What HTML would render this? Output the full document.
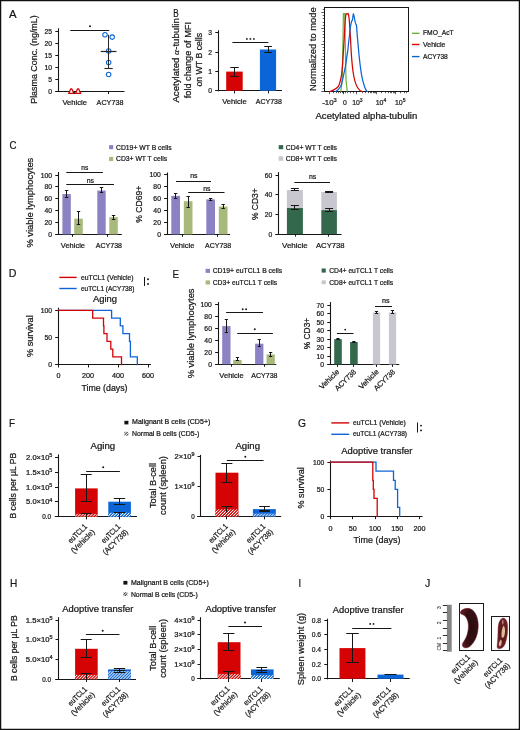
<!DOCTYPE html>
<html><head><meta charset="utf-8"><style>
html,body{margin:0;padding:0;background:#fff;}
svg{display:block;will-change:transform;}
text{font-family:"Liberation Sans", sans-serif;}
</style></head><body>
<svg width="520" height="730" viewBox="0 0 520 730">
<defs>
<radialGradient id="sp1" cx="0.62" cy="0.5" r="0.6"><stop offset="0" stop-color="#2a0b0f"/><stop offset="0.75" stop-color="#361014"/><stop offset="1" stop-color="#5a1820"/></radialGradient>
<radialGradient id="sp2" cx="0.5" cy="0.5" r="0.6"><stop offset="0" stop-color="#4a1418"/><stop offset="1" stop-color="#7a2028"/></radialGradient>
<clipPath id="hclip"><rect x="325" y="7.9" width="83.4" height="84.5"/></clipPath>
<pattern id="hr" patternUnits="userSpaceOnUse" width="2.1" height="2.1" patternTransform="rotate(45)"><rect width="2.1" height="2.1" fill="#d50303"/><rect width="0.85" height="2.1" fill="#fff"/></pattern>
<pattern id="hb" patternUnits="userSpaceOnUse" width="2.1" height="2.1" patternTransform="rotate(45)"><rect width="2.1" height="2.1" fill="#0c65d6"/><rect width="0.85" height="2.1" fill="#fff"/></pattern>
<pattern id="hk" patternUnits="userSpaceOnUse" width="1.9" height="1.9" patternTransform="rotate(45)"><rect width="1.9" height="1.9" fill="#fff"/><rect width="0.9" height="1.9" fill="#222"/></pattern>
</defs>
<rect x="0" y="0" width="520" height="730" fill="#fff"/>
<text transform="translate(9.00,17.60)" font-size="11.6" textLength="7.60" lengthAdjust="spacingAndGlyphs" fill="#161616" stroke="#161616" stroke-width="0.22">A</text>
<line x1="58.50" y1="28.30" x2="58.50" y2="92.00" stroke="#161616" stroke-width="1.1"/>
<line x1="55.30" y1="91.50" x2="124.50" y2="91.50" stroke="#161616" stroke-width="1.1"/>
<line x1="55.30" y1="91.50" x2="58.50" y2="91.50" stroke="#161616" stroke-width="1.0"/>
<text transform="translate(52.10,94.00) scale(0.97,1)" font-size="7.0" text-anchor="end" fill="#161616" stroke="#161616" stroke-width="0.22">0</text>
<line x1="55.30" y1="79.50" x2="58.50" y2="79.50" stroke="#161616" stroke-width="1.0"/>
<text transform="translate(52.10,82.00) scale(0.97,1)" font-size="7.0" text-anchor="end" fill="#161616" stroke="#161616" stroke-width="0.22">5</text>
<line x1="55.30" y1="67.50" x2="58.50" y2="67.50" stroke="#161616" stroke-width="1.0"/>
<text transform="translate(52.10,70.00) scale(0.97,1)" font-size="7.0" text-anchor="end" fill="#161616" stroke="#161616" stroke-width="0.22">10</text>
<line x1="55.30" y1="55.50" x2="58.50" y2="55.50" stroke="#161616" stroke-width="1.0"/>
<text transform="translate(52.10,58.00) scale(0.97,1)" font-size="7.0" text-anchor="end" fill="#161616" stroke="#161616" stroke-width="0.22">15</text>
<line x1="55.30" y1="43.50" x2="58.50" y2="43.50" stroke="#161616" stroke-width="1.0"/>
<text transform="translate(52.10,46.00) scale(0.97,1)" font-size="7.0" text-anchor="end" fill="#161616" stroke="#161616" stroke-width="0.22">20</text>
<line x1="55.30" y1="31.50" x2="58.50" y2="31.50" stroke="#161616" stroke-width="1.0"/>
<text transform="translate(52.10,34.00) scale(0.97,1)" font-size="7.0" text-anchor="end" fill="#161616" stroke="#161616" stroke-width="0.22">25</text>
<line x1="108.50" y1="91.50" x2="108.50" y2="94.00" stroke="#161616" stroke-width="1.0"/>
<line x1="74.50" y1="91.50" x2="74.50" y2="94.00" stroke="#161616" stroke-width="1.0"/>
<text transform="translate(62.40,104.60)" font-size="7.5" textLength="24.60" lengthAdjust="spacingAndGlyphs" fill="#161616" stroke="#161616" stroke-width="0.22">Vehicle</text>
<text transform="translate(96.60,104.60)" font-size="7.5" textLength="26.80" lengthAdjust="spacingAndGlyphs" fill="#161616" stroke="#161616" stroke-width="0.22">ACY738</text>
<text transform="translate(36.80,103.80) rotate(-90)" font-size="8.6" textLength="88.50" lengthAdjust="spacingAndGlyphs" fill="#161616" stroke="#161616" stroke-width="0.22">Plasma Conc. (ng/mL)</text>
<line x1="70.30" y1="30.50" x2="109.20" y2="30.50" stroke="#161616" stroke-width="1.0"/>
<circle cx="90.00" cy="26.20" r="1.0" fill="#161616"/>
<circle cx="105" cy="34.8" r="2.25" fill="none" stroke="#0c65d6" stroke-width="1.05"/>
<circle cx="112.2" cy="37.1" r="2.25" fill="none" stroke="#0c65d6" stroke-width="1.05"/>
<circle cx="108.65" cy="50.9" r="2.25" fill="none" stroke="#0c65d6" stroke-width="1.05"/>
<circle cx="108.65" cy="62.5" r="2.25" fill="none" stroke="#0c65d6" stroke-width="1.05"/>
<circle cx="108.65" cy="74.5" r="2.25" fill="none" stroke="#0c65d6" stroke-width="1.05"/>
<line x1="108.50" y1="34.80" x2="108.50" y2="68.70" stroke="#262626" stroke-width="1.0"/>
<line x1="104.40" y1="68.50" x2="112.70" y2="68.50" stroke="#262626" stroke-width="1.1"/>
<line x1="100.70" y1="51.50" x2="116.50" y2="51.50" stroke="#262626" stroke-width="1.2"/>
<path d="M68.7,93.4 L70.7,89.0 L71.89999999999999,89.0 L73.89999999999999,93.4 Z" fill="#fff" stroke="#d50303" stroke-width="1.3" stroke-linejoin="round"/>
<path d="M75.5,93.4 L77.5,89.0 L78.69999999999999,89.0 L80.69999999999999,93.4 Z" fill="#fff" stroke="#d50303" stroke-width="1.3" stroke-linejoin="round"/>
<text transform="translate(173.20,16.60)" font-size="11.6" textLength="5.40" lengthAdjust="spacingAndGlyphs" fill="#161616" stroke="#161616" stroke-width="0.22">B</text>
<text transform="translate(179.40,102.60) rotate(-90)" font-size="8.6" textLength="84.40" lengthAdjust="spacingAndGlyphs" fill="#161616" stroke="#161616" stroke-width="0.22">Acetylated <tspan font-family="Liberation Serif" font-style="italic">α</tspan>-tubulin</text>
<text transform="translate(191.10,98.30) rotate(-90)" font-size="8.6" textLength="76.30" lengthAdjust="spacingAndGlyphs" fill="#161616" stroke="#161616" stroke-width="0.22">fold change of MFI</text>
<text transform="translate(201.70,86.60) rotate(-90)" font-size="8.6" textLength="53.70" lengthAdjust="spacingAndGlyphs" fill="#161616" stroke="#161616" stroke-width="0.22">on WT B cells</text>
<line x1="218.50" y1="30.30" x2="218.50" y2="91.30" stroke="#161616" stroke-width="1.1"/>
<line x1="215.30" y1="90.50" x2="282.00" y2="90.50" stroke="#161616" stroke-width="1.1"/>
<line x1="215.30" y1="90.50" x2="218.50" y2="90.50" stroke="#161616" stroke-width="1.0"/>
<text transform="translate(212.10,93.30) scale(0.97,1)" font-size="7.0" text-anchor="end" fill="#161616" stroke="#161616" stroke-width="0.22">0</text>
<line x1="215.30" y1="71.50" x2="218.50" y2="71.50" stroke="#161616" stroke-width="1.0"/>
<text transform="translate(212.10,73.90) scale(0.97,1)" font-size="7.0" text-anchor="end" fill="#161616" stroke="#161616" stroke-width="0.22">1</text>
<line x1="215.30" y1="52.50" x2="218.50" y2="52.50" stroke="#161616" stroke-width="1.0"/>
<text transform="translate(212.10,54.50) scale(0.97,1)" font-size="7.0" text-anchor="end" fill="#161616" stroke="#161616" stroke-width="0.22">2</text>
<line x1="215.30" y1="32.50" x2="218.50" y2="32.50" stroke="#161616" stroke-width="1.0"/>
<text transform="translate(212.10,35.10) scale(0.97,1)" font-size="7.0" text-anchor="end" fill="#161616" stroke="#161616" stroke-width="0.22">3</text>
<rect x="226.20" y="71.60" width="16.50" height="19.20" fill="#d50303" />
<rect x="259.90" y="49.50" width="16.20" height="41.30" fill="#0c65d6" />
<line x1="234.50" y1="67.20" x2="234.50" y2="76.00" stroke="#161616" stroke-width="1.0"/>
<line x1="230.30" y1="67.50" x2="238.70" y2="67.50" stroke="#161616" stroke-width="1.0"/>
<line x1="230.30" y1="76.50" x2="238.70" y2="76.50" stroke="#161616" stroke-width="1.0"/>
<line x1="268.50" y1="46.50" x2="268.50" y2="52.20" stroke="#161616" stroke-width="1.0"/>
<line x1="264.25" y1="46.50" x2="271.95" y2="46.50" stroke="#161616" stroke-width="1.0"/>
<line x1="264.25" y1="52.50" x2="271.95" y2="52.50" stroke="#161616" stroke-width="1.0"/>
<line x1="234.50" y1="90.80" x2="234.50" y2="93.40" stroke="#161616" stroke-width="1.0"/>
<line x1="268.50" y1="90.80" x2="268.50" y2="93.40" stroke="#161616" stroke-width="1.0"/>
<line x1="232.40" y1="42.50" x2="268.40" y2="42.50" stroke="#161616" stroke-width="1.0"/>
<circle cx="246.90" cy="38.90" r="0.9" fill="#161616"/>
<circle cx="250.40" cy="38.90" r="0.9" fill="#161616"/>
<circle cx="253.90" cy="38.90" r="0.9" fill="#161616"/>
<text transform="translate(222.20,104.30)" font-size="7.5" textLength="24.60" lengthAdjust="spacingAndGlyphs" fill="#161616" stroke="#161616" stroke-width="0.22">Vehicle</text>
<text transform="translate(255.80,104.30)" font-size="7.5" textLength="26.10" lengthAdjust="spacingAndGlyphs" fill="#161616" stroke="#161616" stroke-width="0.22">ACY738</text>
<rect x="324.5" y="7.5" width="84.0" height="84.0" fill="none" stroke="#161616" stroke-width="1.0"/>
<text transform="translate(316.20,91.00) rotate(-90)" font-size="8.6" textLength="83.60" lengthAdjust="spacingAndGlyphs" fill="#161616" stroke="#161616" stroke-width="0.22">Normalized to mode</text>
<line x1="321.30" y1="91.50" x2="324.50" y2="91.50" stroke="#161616" stroke-width="0.7"/>
<line x1="322.70" y1="88.50" x2="324.50" y2="88.50" stroke="#161616" stroke-width="0.7"/>
<line x1="322.70" y1="85.50" x2="324.50" y2="85.50" stroke="#161616" stroke-width="0.7"/>
<line x1="322.70" y1="82.50" x2="324.50" y2="82.50" stroke="#161616" stroke-width="0.7"/>
<line x1="322.70" y1="78.50" x2="324.50" y2="78.50" stroke="#161616" stroke-width="0.7"/>
<line x1="321.30" y1="75.50" x2="324.50" y2="75.50" stroke="#161616" stroke-width="0.7"/>
<line x1="322.70" y1="72.50" x2="324.50" y2="72.50" stroke="#161616" stroke-width="0.7"/>
<line x1="322.70" y1="69.50" x2="324.50" y2="69.50" stroke="#161616" stroke-width="0.7"/>
<line x1="322.70" y1="66.50" x2="324.50" y2="66.50" stroke="#161616" stroke-width="0.7"/>
<line x1="322.70" y1="63.50" x2="324.50" y2="63.50" stroke="#161616" stroke-width="0.7"/>
<line x1="321.30" y1="59.50" x2="324.50" y2="59.50" stroke="#161616" stroke-width="0.7"/>
<line x1="322.70" y1="56.50" x2="324.50" y2="56.50" stroke="#161616" stroke-width="0.7"/>
<line x1="322.70" y1="53.50" x2="324.50" y2="53.50" stroke="#161616" stroke-width="0.7"/>
<line x1="322.70" y1="50.50" x2="324.50" y2="50.50" stroke="#161616" stroke-width="0.7"/>
<line x1="322.70" y1="47.50" x2="324.50" y2="47.50" stroke="#161616" stroke-width="0.7"/>
<line x1="321.30" y1="44.50" x2="324.50" y2="44.50" stroke="#161616" stroke-width="0.7"/>
<line x1="322.70" y1="41.50" x2="324.50" y2="41.50" stroke="#161616" stroke-width="0.7"/>
<line x1="322.70" y1="37.50" x2="324.50" y2="37.50" stroke="#161616" stroke-width="0.7"/>
<line x1="322.70" y1="34.50" x2="324.50" y2="34.50" stroke="#161616" stroke-width="0.7"/>
<line x1="322.70" y1="31.50" x2="324.50" y2="31.50" stroke="#161616" stroke-width="0.7"/>
<line x1="321.30" y1="28.50" x2="324.50" y2="28.50" stroke="#161616" stroke-width="0.7"/>
<line x1="322.70" y1="25.50" x2="324.50" y2="25.50" stroke="#161616" stroke-width="0.7"/>
<line x1="322.70" y1="22.50" x2="324.50" y2="22.50" stroke="#161616" stroke-width="0.7"/>
<line x1="322.70" y1="18.50" x2="324.50" y2="18.50" stroke="#161616" stroke-width="0.7"/>
<line x1="322.70" y1="15.50" x2="324.50" y2="15.50" stroke="#161616" stroke-width="0.7"/>
<line x1="321.30" y1="12.50" x2="324.50" y2="12.50" stroke="#161616" stroke-width="0.7"/>
<line x1="322.70" y1="9.50" x2="324.50" y2="9.50" stroke="#161616" stroke-width="0.7"/>
<line x1="329.50" y1="91.60" x2="329.50" y2="94.20" stroke="#161616" stroke-width="0.7"/>
<line x1="333.50" y1="91.60" x2="333.50" y2="93.20" stroke="#161616" stroke-width="0.7"/>
<line x1="336.50" y1="91.60" x2="336.50" y2="93.20" stroke="#161616" stroke-width="0.7"/>
<line x1="338.50" y1="91.60" x2="338.50" y2="93.20" stroke="#161616" stroke-width="0.7"/>
<line x1="340.50" y1="91.60" x2="340.50" y2="93.20" stroke="#161616" stroke-width="0.7"/>
<line x1="342.50" y1="91.60" x2="342.50" y2="93.20" stroke="#161616" stroke-width="0.7"/>
<line x1="343.50" y1="91.60" x2="343.50" y2="94.20" stroke="#161616" stroke-width="0.7"/>
<line x1="343.50" y1="91.60" x2="343.50" y2="93.20" stroke="#161616" stroke-width="0.7"/>
<line x1="345.50" y1="91.60" x2="345.50" y2="93.20" stroke="#161616" stroke-width="0.7"/>
<line x1="347.50" y1="91.60" x2="347.50" y2="93.20" stroke="#161616" stroke-width="0.7"/>
<line x1="350.50" y1="91.60" x2="350.50" y2="93.20" stroke="#161616" stroke-width="0.7"/>
<line x1="353.50" y1="91.60" x2="353.50" y2="93.20" stroke="#161616" stroke-width="0.7"/>
<line x1="356.50" y1="91.60" x2="356.50" y2="94.20" stroke="#161616" stroke-width="0.7"/>
<line x1="362.50" y1="91.60" x2="362.50" y2="93.20" stroke="#161616" stroke-width="0.7"/>
<line x1="365.50" y1="91.60" x2="365.50" y2="93.20" stroke="#161616" stroke-width="0.7"/>
<line x1="368.50" y1="91.60" x2="368.50" y2="93.20" stroke="#161616" stroke-width="0.7"/>
<line x1="370.50" y1="91.60" x2="370.50" y2="93.20" stroke="#161616" stroke-width="0.7"/>
<line x1="371.50" y1="91.60" x2="371.50" y2="93.20" stroke="#161616" stroke-width="0.7"/>
<line x1="373.50" y1="91.60" x2="373.50" y2="93.20" stroke="#161616" stroke-width="0.7"/>
<line x1="374.50" y1="91.60" x2="374.50" y2="93.20" stroke="#161616" stroke-width="0.7"/>
<line x1="375.50" y1="91.60" x2="375.50" y2="93.20" stroke="#161616" stroke-width="0.7"/>
<line x1="376.50" y1="91.60" x2="376.50" y2="94.20" stroke="#161616" stroke-width="0.7"/>
<line x1="381.50" y1="91.60" x2="381.50" y2="93.20" stroke="#161616" stroke-width="0.7"/>
<line x1="385.50" y1="91.60" x2="385.50" y2="93.20" stroke="#161616" stroke-width="0.7"/>
<line x1="388.50" y1="91.60" x2="388.50" y2="93.20" stroke="#161616" stroke-width="0.7"/>
<line x1="390.50" y1="91.60" x2="390.50" y2="93.20" stroke="#161616" stroke-width="0.7"/>
<line x1="391.50" y1="91.60" x2="391.50" y2="93.20" stroke="#161616" stroke-width="0.7"/>
<line x1="393.50" y1="91.60" x2="393.50" y2="93.20" stroke="#161616" stroke-width="0.7"/>
<line x1="394.50" y1="91.60" x2="394.50" y2="93.20" stroke="#161616" stroke-width="0.7"/>
<line x1="395.50" y1="91.60" x2="395.50" y2="94.20" stroke="#161616" stroke-width="0.7"/>
<line x1="400.50" y1="91.60" x2="400.50" y2="93.20" stroke="#161616" stroke-width="0.7"/>
<line x1="404.50" y1="91.60" x2="404.50" y2="93.20" stroke="#161616" stroke-width="0.7"/>
<line x1="406.50" y1="91.60" x2="406.50" y2="93.20" stroke="#161616" stroke-width="0.7"/>
<text transform="translate(322.20,105.00)" font-size="7.2" textLength="14.60" lengthAdjust="spacingAndGlyphs" fill="#161616" stroke="#161616" stroke-width="0.22">-10<tspan font-size="5.18" dy="-3.02">3</tspan></text>
<text transform="translate(343.00,105.00)" font-size="7.2" textLength="3.80" lengthAdjust="spacingAndGlyphs" fill="#161616" stroke="#161616" stroke-width="0.22">0</text>
<text transform="translate(352.20,105.00)" font-size="7.2" textLength="10.40" lengthAdjust="spacingAndGlyphs" fill="#161616" stroke="#161616" stroke-width="0.22">10<tspan font-size="5.18" dy="-3.02">3</tspan></text>
<text transform="translate(375.70,105.00)" font-size="7.2" textLength="10.60" lengthAdjust="spacingAndGlyphs" fill="#161616" stroke="#161616" stroke-width="0.22">10<tspan font-size="5.18" dy="-3.02">4</tspan></text>
<text transform="translate(394.90,105.00)" font-size="7.2" textLength="10.60" lengthAdjust="spacingAndGlyphs" fill="#161616" stroke="#161616" stroke-width="0.22">10<tspan font-size="5.18" dy="-3.02">5</tspan></text>
<text transform="translate(315.50,118.60)" font-size="8.6" textLength="101.80" lengthAdjust="spacingAndGlyphs" fill="#161616" stroke="#161616" stroke-width="0.22">Acetylated alpha-tubulin</text>
<line x1="412.00" y1="33.30" x2="419.50" y2="33.30" stroke="#6db33f" stroke-width="1.4"/>
<text transform="translate(423.00,35.30)" font-size="6.9" textLength="30.60" lengthAdjust="spacingAndGlyphs" fill="#161616" stroke="#161616" stroke-width="0.22">FMO_AcT</text>
<line x1="412.00" y1="44.50" x2="419.50" y2="44.50" stroke="#d50303" stroke-width="1.4"/>
<text transform="translate(423.00,47.20)" font-size="6.9" textLength="22.50" lengthAdjust="spacingAndGlyphs" fill="#161616" stroke="#161616" stroke-width="0.22">Vehicle</text>
<line x1="412.00" y1="56.60" x2="419.50" y2="56.60" stroke="#0c65d6" stroke-width="1.4"/>
<text transform="translate(423.00,59.00)" font-size="6.9" textLength="24.80" lengthAdjust="spacingAndGlyphs" fill="#161616" stroke="#161616" stroke-width="0.22">ACY738</text>
<g clip-path="url(#hclip)" fill="none" stroke-width="1.25" stroke-linejoin="round">
<path stroke="#6db33f" d="M340.6,91.6 L340.8,91.4 L342.2,80 L343.0,40 L343.4,13.6 L344.8,13.6 L345.2,40 L346.0,80 L347.2,91.4 L347.4,91.6"/>
<path stroke="#d50303" d="M329.5,91.6 L330.4,91.4 C334,90 337,88.5 338.5,86.2 C340,83 341.0,78 341.6,74.6 C342.2,70 342.5,66 342.8,61 C343.3,52 343.9,45 344.4,35 C344.9,25 345.3,16 346.0,13.8 L348.2,13.6 C349,15 349.5,22 350.0,30 C350.6,40 351.0,48 351.4,55 C352,63 352.6,70 353.6,75 C354.6,81 356,85 357.5,87.5 C359,90 360,91.2 362,91.5 L363,91.6"/>
<path stroke="#0c65d6" d="M334.6,91.6 L335.6,91.5 C337.5,90.5 339.5,88.5 340.8,86.2 C342,83 343,78 343.7,74.6 C344.6,70 345.4,67 346.0,63 C346.8,57 347.3,53 347.7,51.5 C348.3,46 348.8,40 349.4,36 C349.8,32 350,28 350.5,26.5 C351,24 351.3,22 351.8,21 L352.4,20.2 C352.8,18 353.0,15 353.4,13.8 C353.9,15 354.2,17 354.6,19 C355,22 355.3,23.2 355.8,24 L356.5,25.4 C356.8,28 357.0,32 357.3,36 C357.7,40 358.2,46 358.7,51.5 C359.2,57 359.6,60 359.9,63 C360.5,68 361,71 361.5,74.6 C362.3,79 363.3,83 364.4,86.2 C365.2,88.5 366,90.5 367,91.4 L368,91.6"/>
</g>
<text transform="translate(9.50,148.80)" font-size="11.6" textLength="7.00" lengthAdjust="spacingAndGlyphs" fill="#161616" stroke="#161616" stroke-width="0.22">C</text>
<rect x="109.10" y="145.10" width="4.10" height="4.10" fill="#8b82c4" />
<text transform="translate(116.00,149.50)" font-size="6.9" textLength="55.70" lengthAdjust="spacingAndGlyphs" fill="#161616" stroke="#161616" stroke-width="0.22">CD19+ WT B cells</text>
<rect x="109.10" y="156.90" width="4.10" height="4.20" fill="#a8b97c" />
<text transform="translate(116.00,161.40)" font-size="6.9" textLength="51.10" lengthAdjust="spacingAndGlyphs" fill="#161616" stroke="#161616" stroke-width="0.22">CD3+ WT T cells</text>
<rect x="278.70" y="145.10" width="4.50" height="4.10" fill="#34684c" />
<text transform="translate(285.80,149.60)" font-size="6.9" textLength="51.20" lengthAdjust="spacingAndGlyphs" fill="#161616" stroke="#161616" stroke-width="0.22">CD4+ WT T cells</text>
<rect x="278.70" y="156.30" width="4.50" height="4.50" fill="#c8c6ce" />
<text transform="translate(285.80,161.20)" font-size="6.9" textLength="51.20" lengthAdjust="spacingAndGlyphs" fill="#161616" stroke="#161616" stroke-width="0.22">CD8+ WT T cells</text>
<line x1="58.50" y1="172.00" x2="58.50" y2="234.90" stroke="#161616" stroke-width="1.1"/>
<line x1="55.30" y1="234.50" x2="121.80" y2="234.50" stroke="#161616" stroke-width="1.1"/>
<line x1="55.30" y1="234.50" x2="58.50" y2="234.50" stroke="#161616" stroke-width="1.0"/>
<text transform="translate(52.10,236.90) scale(0.97,1)" font-size="7.0" text-anchor="end" fill="#161616" stroke="#161616" stroke-width="0.22">0</text>
<line x1="55.30" y1="222.50" x2="58.50" y2="222.50" stroke="#161616" stroke-width="1.0"/>
<text transform="translate(52.10,225.04) scale(0.97,1)" font-size="7.0" text-anchor="end" fill="#161616" stroke="#161616" stroke-width="0.22">20</text>
<line x1="55.30" y1="210.50" x2="58.50" y2="210.50" stroke="#161616" stroke-width="1.0"/>
<text transform="translate(52.10,213.18) scale(0.97,1)" font-size="7.0" text-anchor="end" fill="#161616" stroke="#161616" stroke-width="0.22">40</text>
<line x1="55.30" y1="198.50" x2="58.50" y2="198.50" stroke="#161616" stroke-width="1.0"/>
<text transform="translate(52.10,201.32) scale(0.97,1)" font-size="7.0" text-anchor="end" fill="#161616" stroke="#161616" stroke-width="0.22">60</text>
<line x1="55.30" y1="186.50" x2="58.50" y2="186.50" stroke="#161616" stroke-width="1.0"/>
<text transform="translate(52.10,189.46) scale(0.97,1)" font-size="7.0" text-anchor="end" fill="#161616" stroke="#161616" stroke-width="0.22">80</text>
<line x1="55.30" y1="175.50" x2="58.50" y2="175.50" stroke="#161616" stroke-width="1.0"/>
<text transform="translate(52.10,177.60) scale(0.97,1)" font-size="7.0" text-anchor="end" fill="#161616" stroke="#161616" stroke-width="0.22">100</text>
<text transform="translate(33.20,247.60) rotate(-90)" font-size="8.6" textLength="89.90" lengthAdjust="spacingAndGlyphs" fill="#161616" stroke="#161616" stroke-width="0.22">% viable lymphocytes</text>
<rect x="62.40" y="194.08" width="8.40" height="40.32" fill="#8b82c4" />
<line x1="66.50" y1="190.30" x2="66.50" y2="197.30" stroke="#161616" stroke-width="1.0"/>
<line x1="64.90" y1="190.50" x2="68.30" y2="190.50" stroke="#161616" stroke-width="1.0"/>
<line x1="64.90" y1="197.50" x2="68.30" y2="197.50" stroke="#161616" stroke-width="1.0"/>
<rect x="74.20" y="218.69" width="8.60" height="15.71" fill="#a8b97c" />
<line x1="78.50" y1="211.70" x2="78.50" y2="224.40" stroke="#161616" stroke-width="1.0"/>
<line x1="76.80" y1="211.50" x2="80.20" y2="211.50" stroke="#161616" stroke-width="1.0"/>
<line x1="76.80" y1="224.50" x2="80.20" y2="224.50" stroke="#161616" stroke-width="1.0"/>
<rect x="97.30" y="190.52" width="8.40" height="43.88" fill="#8b82c4" />
<line x1="101.50" y1="187.50" x2="101.50" y2="192.60" stroke="#161616" stroke-width="1.0"/>
<line x1="99.80" y1="187.50" x2="103.20" y2="187.50" stroke="#161616" stroke-width="1.0"/>
<line x1="99.80" y1="192.50" x2="103.20" y2="192.50" stroke="#161616" stroke-width="1.0"/>
<rect x="109.30" y="217.20" width="8.50" height="17.20" fill="#a8b97c" />
<line x1="113.50" y1="215.50" x2="113.50" y2="219.20" stroke="#161616" stroke-width="1.0"/>
<line x1="111.85" y1="215.50" x2="115.25" y2="215.50" stroke="#161616" stroke-width="1.0"/>
<line x1="111.85" y1="219.50" x2="115.25" y2="219.50" stroke="#161616" stroke-width="1.0"/>
<line x1="72.50" y1="234.40" x2="72.50" y2="236.80" stroke="#161616" stroke-width="1.0"/>
<line x1="107.50" y1="234.40" x2="107.50" y2="236.80" stroke="#161616" stroke-width="1.0"/>
<line x1="66.30" y1="172.50" x2="102.90" y2="172.50" stroke="#161616" stroke-width="1.0"/>
<text transform="translate(81.30,169.80)" font-size="7.2" textLength="7.00" lengthAdjust="spacingAndGlyphs" fill="#161616" stroke="#161616" stroke-width="0.22">ns</text>
<line x1="66.30" y1="184.50" x2="114.00" y2="184.50" stroke="#161616" stroke-width="1.0"/>
<text transform="translate(86.80,182.50)" font-size="7.2" textLength="7.20" lengthAdjust="spacingAndGlyphs" fill="#161616" stroke="#161616" stroke-width="0.22">ns</text>
<text transform="translate(60.80,247.50)" font-size="7.5" textLength="24.20" lengthAdjust="spacingAndGlyphs" fill="#161616" stroke="#161616" stroke-width="0.22">Vehicle</text>
<text transform="translate(95.80,247.50)" font-size="7.5" textLength="26.20" lengthAdjust="spacingAndGlyphs" fill="#161616" stroke="#161616" stroke-width="0.22">ACY738</text>
<line x1="167.50" y1="172.50" x2="167.50" y2="234.90" stroke="#161616" stroke-width="1.1"/>
<line x1="164.10" y1="234.50" x2="230.00" y2="234.50" stroke="#161616" stroke-width="1.1"/>
<line x1="164.10" y1="234.50" x2="167.30" y2="234.50" stroke="#161616" stroke-width="1.0"/>
<text transform="translate(160.90,236.90) scale(0.97,1)" font-size="7.0" text-anchor="end" fill="#161616" stroke="#161616" stroke-width="0.22">0</text>
<line x1="164.10" y1="222.50" x2="167.30" y2="222.50" stroke="#161616" stroke-width="1.0"/>
<text transform="translate(160.90,224.98) scale(0.97,1)" font-size="7.0" text-anchor="end" fill="#161616" stroke="#161616" stroke-width="0.22">20</text>
<line x1="164.10" y1="210.50" x2="167.30" y2="210.50" stroke="#161616" stroke-width="1.0"/>
<text transform="translate(160.90,213.06) scale(0.97,1)" font-size="7.0" text-anchor="end" fill="#161616" stroke="#161616" stroke-width="0.22">40</text>
<line x1="164.10" y1="198.50" x2="167.30" y2="198.50" stroke="#161616" stroke-width="1.0"/>
<text transform="translate(160.90,201.14) scale(0.97,1)" font-size="7.0" text-anchor="end" fill="#161616" stroke="#161616" stroke-width="0.22">60</text>
<line x1="164.10" y1="186.50" x2="167.30" y2="186.50" stroke="#161616" stroke-width="1.0"/>
<text transform="translate(160.90,189.22) scale(0.97,1)" font-size="7.0" text-anchor="end" fill="#161616" stroke="#161616" stroke-width="0.22">80</text>
<line x1="164.10" y1="174.50" x2="167.30" y2="174.50" stroke="#161616" stroke-width="1.0"/>
<text transform="translate(160.90,177.30) scale(0.97,1)" font-size="7.0" text-anchor="end" fill="#161616" stroke="#161616" stroke-width="0.22">100</text>
<text transform="translate(142.40,222.70) rotate(-90)" font-size="8.6" textLength="36.90" lengthAdjust="spacingAndGlyphs" fill="#161616" stroke="#161616" stroke-width="0.22">% CD69+</text>
<rect x="171.30" y="195.86" width="8.70" height="38.55" fill="#8b82c4" />
<line x1="175.50" y1="193.80" x2="175.50" y2="198.00" stroke="#161616" stroke-width="1.0"/>
<line x1="173.95" y1="193.50" x2="177.35" y2="193.50" stroke="#161616" stroke-width="1.0"/>
<line x1="173.95" y1="198.50" x2="177.35" y2="198.50" stroke="#161616" stroke-width="1.0"/>
<rect x="183.80" y="201.19" width="8.70" height="33.21" fill="#a8b97c" />
<line x1="188.50" y1="196.30" x2="188.50" y2="207.00" stroke="#161616" stroke-width="1.0"/>
<line x1="186.45" y1="196.50" x2="189.85" y2="196.50" stroke="#161616" stroke-width="1.0"/>
<line x1="186.45" y1="207.50" x2="189.85" y2="207.50" stroke="#161616" stroke-width="1.0"/>
<rect x="206.30" y="199.41" width="8.70" height="34.99" fill="#8b82c4" />
<line x1="210.50" y1="198.50" x2="210.50" y2="200.80" stroke="#161616" stroke-width="1.0"/>
<line x1="208.95" y1="198.50" x2="212.35" y2="198.50" stroke="#161616" stroke-width="1.0"/>
<line x1="208.95" y1="200.50" x2="212.35" y2="200.50" stroke="#161616" stroke-width="1.0"/>
<rect x="218.80" y="206.53" width="8.70" height="27.87" fill="#a8b97c" />
<line x1="223.50" y1="204.30" x2="223.50" y2="208.30" stroke="#161616" stroke-width="1.0"/>
<line x1="221.45" y1="204.50" x2="224.85" y2="204.50" stroke="#161616" stroke-width="1.0"/>
<line x1="221.45" y1="208.50" x2="224.85" y2="208.50" stroke="#161616" stroke-width="1.0"/>
<line x1="182.50" y1="234.40" x2="182.50" y2="236.80" stroke="#161616" stroke-width="1.0"/>
<line x1="217.50" y1="234.40" x2="217.50" y2="236.80" stroke="#161616" stroke-width="1.0"/>
<line x1="176.00" y1="181.50" x2="211.00" y2="181.50" stroke="#161616" stroke-width="1.0"/>
<text transform="translate(190.20,178.20)" font-size="7.2" textLength="7.30" lengthAdjust="spacingAndGlyphs" fill="#161616" stroke="#161616" stroke-width="0.22">ns</text>
<line x1="188.20" y1="192.50" x2="224.50" y2="192.50" stroke="#161616" stroke-width="1.0"/>
<text transform="translate(203.20,190.80)" font-size="7.2" textLength="7.20" lengthAdjust="spacingAndGlyphs" fill="#161616" stroke="#161616" stroke-width="0.22">ns</text>
<text transform="translate(170.00,247.50)" font-size="7.5" textLength="24.50" lengthAdjust="spacingAndGlyphs" fill="#161616" stroke="#161616" stroke-width="0.22">Vehicle</text>
<text transform="translate(205.00,247.50)" font-size="7.5" textLength="26.20" lengthAdjust="spacingAndGlyphs" fill="#161616" stroke="#161616" stroke-width="0.22">ACY738</text>
<line x1="278.50" y1="172.10" x2="278.50" y2="234.70" stroke="#161616" stroke-width="1.1"/>
<line x1="275.50" y1="234.50" x2="341.50" y2="234.50" stroke="#161616" stroke-width="1.1"/>
<line x1="275.50" y1="234.50" x2="278.70" y2="234.50" stroke="#161616" stroke-width="1.0"/>
<text transform="translate(272.30,236.70) scale(0.97,1)" font-size="7.0" text-anchor="end" fill="#161616" stroke="#161616" stroke-width="0.22">0</text>
<line x1="275.50" y1="214.50" x2="278.70" y2="214.50" stroke="#161616" stroke-width="1.0"/>
<text transform="translate(272.30,216.97) scale(0.97,1)" font-size="7.0" text-anchor="end" fill="#161616" stroke="#161616" stroke-width="0.22">20</text>
<line x1="275.50" y1="194.50" x2="278.70" y2="194.50" stroke="#161616" stroke-width="1.0"/>
<text transform="translate(272.30,197.24) scale(0.97,1)" font-size="7.0" text-anchor="end" fill="#161616" stroke="#161616" stroke-width="0.22">40</text>
<line x1="275.50" y1="175.50" x2="278.70" y2="175.50" stroke="#161616" stroke-width="1.0"/>
<text transform="translate(272.30,177.51) scale(0.97,1)" font-size="7.0" text-anchor="end" fill="#161616" stroke="#161616" stroke-width="0.22">60</text>
<text transform="translate(257.80,220.10) rotate(-90)" font-size="8.6" textLength="31.90" lengthAdjust="spacingAndGlyphs" fill="#161616" stroke="#161616" stroke-width="0.22">% CD3+</text>
<rect x="286.90" y="190.10" width="16.00" height="17.90" fill="#c8c6ce" />
<rect x="286.90" y="208.00" width="16.00" height="26.20" fill="#34684c" />
<line x1="294.50" y1="205.50" x2="294.50" y2="209.50" stroke="#161616" stroke-width="1.0"/>
<line x1="290.90" y1="205.50" x2="298.90" y2="205.50" stroke="#161616" stroke-width="1.0"/>
<line x1="290.90" y1="209.50" x2="298.90" y2="209.50" stroke="#161616" stroke-width="1.0"/>
<line x1="294.50" y1="188.90" x2="294.50" y2="190.50" stroke="#161616" stroke-width="1.0"/>
<line x1="290.90" y1="188.50" x2="298.90" y2="188.50" stroke="#161616" stroke-width="1.0"/>
<line x1="290.90" y1="190.50" x2="298.90" y2="190.50" stroke="#161616" stroke-width="1.0"/>
<rect x="321.30" y="192.00" width="15.60" height="18.10" fill="#c8c6ce" />
<rect x="321.30" y="210.10" width="15.60" height="24.10" fill="#34684c" />
<line x1="329.50" y1="208.30" x2="329.50" y2="211.40" stroke="#161616" stroke-width="1.0"/>
<line x1="325.10" y1="208.50" x2="333.10" y2="208.50" stroke="#161616" stroke-width="1.0"/>
<line x1="325.10" y1="211.50" x2="333.10" y2="211.50" stroke="#161616" stroke-width="1.0"/>
<line x1="329.50" y1="191.60" x2="329.50" y2="192.40" stroke="#161616" stroke-width="1.0"/>
<line x1="325.10" y1="191.50" x2="333.10" y2="191.50" stroke="#161616" stroke-width="1.0"/>
<line x1="325.10" y1="192.50" x2="333.10" y2="192.50" stroke="#161616" stroke-width="1.0"/>
<line x1="295.50" y1="234.20" x2="295.50" y2="236.60" stroke="#161616" stroke-width="1.0"/>
<line x1="328.50" y1="234.20" x2="328.50" y2="236.60" stroke="#161616" stroke-width="1.0"/>
<line x1="294.40" y1="182.50" x2="330.00" y2="182.50" stroke="#161616" stroke-width="1.0"/>
<text transform="translate(309.00,178.90)" font-size="7.2" textLength="7.30" lengthAdjust="spacingAndGlyphs" fill="#161616" stroke="#161616" stroke-width="0.22">ns</text>
<text transform="translate(282.00,247.70)" font-size="7.5" textLength="25.70" lengthAdjust="spacingAndGlyphs" fill="#161616" stroke="#161616" stroke-width="0.22">Vehicle</text>
<text transform="translate(316.00,247.70)" font-size="7.5" textLength="28.60" lengthAdjust="spacingAndGlyphs" fill="#161616" stroke="#161616" stroke-width="0.22">ACY738</text>
<text transform="translate(8.80,277.40)" font-size="11.6" textLength="7.70" lengthAdjust="spacingAndGlyphs" fill="#161616" stroke="#161616" stroke-width="0.22">D</text>
<line x1="59.30" y1="277.40" x2="76.70" y2="277.40" stroke="#d50303" stroke-width="1.4"/>
<text transform="translate(80.90,279.80)" font-size="6.9" textLength="52.60" lengthAdjust="spacingAndGlyphs" fill="#161616" stroke="#161616" stroke-width="0.22">euTCL1 (Vehicle)</text>
<line x1="59.30" y1="288.50" x2="76.70" y2="288.50" stroke="#0c65d6" stroke-width="1.4"/>
<text transform="translate(80.90,290.50)" font-size="6.9" textLength="53.50" lengthAdjust="spacingAndGlyphs" fill="#161616" stroke="#161616" stroke-width="0.22">euTCL1 (ACY738)</text>
<line x1="144.50" y1="277.00" x2="144.50" y2="286.00" stroke="#161616" stroke-width="1.0"/>
<circle cx="148.00" cy="279.30" r="0.95" fill="#161616"/>
<circle cx="148.00" cy="284.00" r="0.95" fill="#161616"/>
<text transform="translate(92.90,301.60)" font-size="8.6" textLength="24.00" lengthAdjust="spacingAndGlyphs" fill="#161616" stroke="#161616" stroke-width="0.22">Aging</text>
<line x1="58.50" y1="307.70" x2="58.50" y2="365.15" stroke="#161616" stroke-width="1.1"/>
<line x1="55.20" y1="364.50" x2="151.00" y2="364.50" stroke="#161616" stroke-width="1.1"/>
<line x1="55.20" y1="364.50" x2="58.40" y2="364.50" stroke="#161616" stroke-width="1.0"/>
<text transform="translate(52.00,367.15) scale(0.97,1)" font-size="7.0" text-anchor="end" fill="#161616" stroke="#161616" stroke-width="0.22">0</text>
<line x1="55.20" y1="337.50" x2="58.40" y2="337.50" stroke="#161616" stroke-width="1.0"/>
<text transform="translate(52.00,340.00) scale(0.97,1)" font-size="7.0" text-anchor="end" fill="#161616" stroke="#161616" stroke-width="0.22">50</text>
<line x1="55.20" y1="310.50" x2="58.40" y2="310.50" stroke="#161616" stroke-width="1.0"/>
<text transform="translate(52.00,312.90) scale(0.97,1)" font-size="7.0" text-anchor="end" fill="#161616" stroke="#161616" stroke-width="0.22">100</text>
<line x1="58.50" y1="364.65" x2="58.50" y2="367.45" stroke="#161616" stroke-width="1.0"/>
<text transform="translate(58.40,378.20) scale(1.0,1)" font-size="7.2" text-anchor="middle" fill="#161616" stroke="#161616" stroke-width="0.22">0</text>
<line x1="88.50" y1="364.65" x2="88.50" y2="367.45" stroke="#161616" stroke-width="1.0"/>
<text transform="translate(88.10,378.20) scale(1.0,1)" font-size="7.2" text-anchor="middle" fill="#161616" stroke="#161616" stroke-width="0.22">200</text>
<line x1="118.50" y1="364.65" x2="118.50" y2="367.45" stroke="#161616" stroke-width="1.0"/>
<text transform="translate(118.10,378.20) scale(1.0,1)" font-size="7.2" text-anchor="middle" fill="#161616" stroke="#161616" stroke-width="0.22">400</text>
<line x1="148.50" y1="364.65" x2="148.50" y2="367.45" stroke="#161616" stroke-width="1.0"/>
<text transform="translate(148.00,378.20) scale(1.0,1)" font-size="7.2" text-anchor="middle" fill="#161616" stroke="#161616" stroke-width="0.22">600</text>
<text transform="translate(81.50,391.30)" font-size="8.6" textLength="46.00" lengthAdjust="spacingAndGlyphs" fill="#161616" stroke="#161616" stroke-width="0.22">Time (days)</text>
<text transform="translate(33.10,357.00) rotate(-90)" font-size="8.6" textLength="41.70" lengthAdjust="spacingAndGlyphs" fill="#161616" stroke="#161616" stroke-width="0.22">% survival</text>
<path d="M58.50,310.40 L111.60,310.40 L111.60,318.20 L120.30,318.20 L120.30,325.90 L122.90,325.90 L122.90,333.60 L129.50,333.60 L129.50,341.40 L130.40,341.40 L130.40,356.90 L137.30,356.90 L137.30,364.65" stroke="#0c65d6" stroke-width="1.3" fill="none" stroke-linejoin="miter" stroke-linecap="square"/>
<path d="M58.50,310.40 L92.70,310.40 L92.70,318.20 L103.50,318.20 L103.50,325.90 L103.90,325.90 L103.90,333.60 L107.00,333.60 L107.00,341.40 L110.80,341.40 L110.80,349.10 L112.80,349.10 L112.80,356.90 L121.50,356.90 L121.50,364.65" stroke="#d50303" stroke-width="1.3" fill="none" stroke-linejoin="miter" stroke-linecap="square"/>
<text transform="translate(172.50,277.60)" font-size="11.6" textLength="6.50" lengthAdjust="spacingAndGlyphs" fill="#161616" stroke="#161616" stroke-width="0.22">E</text>
<rect x="205.60" y="268.80" width="4.40" height="4.10" fill="#8b82c4" />
<text transform="translate(212.70,273.20)" font-size="6.9" textLength="69.50" lengthAdjust="spacingAndGlyphs" fill="#161616" stroke="#161616" stroke-width="0.22">CD19+ euTCL1 B cells</text>
<rect x="205.60" y="280.40" width="4.40" height="4.10" fill="#a8b97c" />
<text transform="translate(212.70,284.80)" font-size="6.9" textLength="64.50" lengthAdjust="spacingAndGlyphs" fill="#161616" stroke="#161616" stroke-width="0.22">CD3+ euTCL1 T cells</text>
<rect x="321.60" y="268.50" width="4.20" height="4.10" fill="#34684c" />
<text transform="translate(329.20,272.90)" font-size="6.9" textLength="64.00" lengthAdjust="spacingAndGlyphs" fill="#161616" stroke="#161616" stroke-width="0.22">CD4+ euTCL1 T cells</text>
<rect x="321.60" y="280.40" width="4.20" height="3.80" fill="#c8c6ce" />
<text transform="translate(329.20,284.50)" font-size="6.9" textLength="64.00" lengthAdjust="spacingAndGlyphs" fill="#161616" stroke="#161616" stroke-width="0.22">CD8+ euTCL1 T cells</text>
<line x1="218.50" y1="302.10" x2="218.50" y2="364.80" stroke="#161616" stroke-width="1.1"/>
<line x1="215.10" y1="364.50" x2="276.30" y2="364.50" stroke="#161616" stroke-width="1.1"/>
<line x1="215.10" y1="364.50" x2="218.30" y2="364.50" stroke="#161616" stroke-width="1.0"/>
<text transform="translate(211.90,366.80) scale(0.97,1)" font-size="7.0" text-anchor="end" fill="#161616" stroke="#161616" stroke-width="0.22">0</text>
<line x1="215.10" y1="352.50" x2="218.30" y2="352.50" stroke="#161616" stroke-width="1.0"/>
<text transform="translate(211.90,354.85) scale(0.97,1)" font-size="7.0" text-anchor="end" fill="#161616" stroke="#161616" stroke-width="0.22">20</text>
<line x1="215.10" y1="340.50" x2="218.30" y2="340.50" stroke="#161616" stroke-width="1.0"/>
<text transform="translate(211.90,342.90) scale(0.97,1)" font-size="7.0" text-anchor="end" fill="#161616" stroke="#161616" stroke-width="0.22">40</text>
<line x1="215.10" y1="328.50" x2="218.30" y2="328.50" stroke="#161616" stroke-width="1.0"/>
<text transform="translate(211.90,330.95) scale(0.97,1)" font-size="7.0" text-anchor="end" fill="#161616" stroke="#161616" stroke-width="0.22">60</text>
<line x1="215.10" y1="316.50" x2="218.30" y2="316.50" stroke="#161616" stroke-width="1.0"/>
<text transform="translate(211.90,319.00) scale(0.97,1)" font-size="7.0" text-anchor="end" fill="#161616" stroke="#161616" stroke-width="0.22">80</text>
<line x1="215.10" y1="304.50" x2="218.30" y2="304.50" stroke="#161616" stroke-width="1.0"/>
<text transform="translate(211.90,307.05) scale(0.97,1)" font-size="7.0" text-anchor="end" fill="#161616" stroke="#161616" stroke-width="0.22">100</text>
<text transform="translate(193.50,378.30) rotate(-90)" font-size="8.6" textLength="89.80" lengthAdjust="spacingAndGlyphs" fill="#161616" stroke="#161616" stroke-width="0.22">% viable lymphocytes</text>
<rect x="222.20" y="326.10" width="8.30" height="38.20" fill="#8b82c4" />
<line x1="226.50" y1="319.10" x2="226.50" y2="332.20" stroke="#161616" stroke-width="1.0"/>
<line x1="224.75" y1="319.50" x2="227.95" y2="319.50" stroke="#161616" stroke-width="1.0"/>
<line x1="224.75" y1="332.50" x2="227.95" y2="332.50" stroke="#161616" stroke-width="1.0"/>
<rect x="233.20" y="359.90" width="8.40" height="4.40" fill="#a8b97c" />
<line x1="237.50" y1="357.60" x2="237.50" y2="360.90" stroke="#161616" stroke-width="1.0"/>
<line x1="235.80" y1="357.50" x2="239.00" y2="357.50" stroke="#161616" stroke-width="1.0"/>
<line x1="235.80" y1="360.50" x2="239.00" y2="360.50" stroke="#161616" stroke-width="1.0"/>
<rect x="255.10" y="343.70" width="8.30" height="20.60" fill="#8b82c4" />
<line x1="259.50" y1="339.40" x2="259.50" y2="346.80" stroke="#161616" stroke-width="1.0"/>
<line x1="257.65" y1="339.50" x2="260.85" y2="339.50" stroke="#161616" stroke-width="1.0"/>
<line x1="257.65" y1="346.50" x2="260.85" y2="346.50" stroke="#161616" stroke-width="1.0"/>
<rect x="266.50" y="354.40" width="8.30" height="9.90" fill="#a8b97c" />
<line x1="270.50" y1="352.70" x2="270.50" y2="356.00" stroke="#161616" stroke-width="1.0"/>
<line x1="269.05" y1="352.50" x2="272.25" y2="352.50" stroke="#161616" stroke-width="1.0"/>
<line x1="269.05" y1="356.50" x2="272.25" y2="356.50" stroke="#161616" stroke-width="1.0"/>
<line x1="231.50" y1="364.30" x2="231.50" y2="366.70" stroke="#161616" stroke-width="1.0"/>
<line x1="264.50" y1="364.30" x2="264.50" y2="366.70" stroke="#161616" stroke-width="1.0"/>
<line x1="226.10" y1="312.50" x2="263.00" y2="312.50" stroke="#161616" stroke-width="1.0"/>
<circle cx="242.70" cy="309.20" r="0.95" fill="#161616"/>
<circle cx="246.10" cy="309.20" r="0.95" fill="#161616"/>
<line x1="237.20" y1="333.50" x2="272.90" y2="333.50" stroke="#161616" stroke-width="1.0"/>
<circle cx="254.80" cy="329.30" r="0.95" fill="#161616"/>
<text transform="translate(219.30,377.60)" font-size="7.5" textLength="24.40" lengthAdjust="spacingAndGlyphs" fill="#161616" stroke="#161616" stroke-width="0.22">Vehicle</text>
<text transform="translate(251.30,377.60)" font-size="7.5" textLength="26.20" lengthAdjust="spacingAndGlyphs" fill="#161616" stroke="#161616" stroke-width="0.22">ACY738</text>
<line x1="330.50" y1="302.10" x2="330.50" y2="365.00" stroke="#161616" stroke-width="1.1"/>
<line x1="327.30" y1="364.50" x2="399.20" y2="364.50" stroke="#161616" stroke-width="1.1"/>
<line x1="327.30" y1="364.50" x2="330.50" y2="364.50" stroke="#161616" stroke-width="1.0"/>
<text transform="translate(324.10,367.00) scale(0.97,1)" font-size="7.0" text-anchor="end" fill="#161616" stroke="#161616" stroke-width="0.22">0</text>
<line x1="327.30" y1="356.50" x2="330.50" y2="356.50" stroke="#161616" stroke-width="1.0"/>
<text transform="translate(324.10,358.56) scale(0.97,1)" font-size="7.0" text-anchor="end" fill="#161616" stroke="#161616" stroke-width="0.22">10</text>
<line x1="327.30" y1="347.50" x2="330.50" y2="347.50" stroke="#161616" stroke-width="1.0"/>
<text transform="translate(324.10,350.12) scale(0.97,1)" font-size="7.0" text-anchor="end" fill="#161616" stroke="#161616" stroke-width="0.22">20</text>
<line x1="327.30" y1="339.50" x2="330.50" y2="339.50" stroke="#161616" stroke-width="1.0"/>
<text transform="translate(324.10,341.68) scale(0.97,1)" font-size="7.0" text-anchor="end" fill="#161616" stroke="#161616" stroke-width="0.22">30</text>
<line x1="327.30" y1="330.50" x2="330.50" y2="330.50" stroke="#161616" stroke-width="1.0"/>
<text transform="translate(324.10,333.24) scale(0.97,1)" font-size="7.0" text-anchor="end" fill="#161616" stroke="#161616" stroke-width="0.22">40</text>
<line x1="327.30" y1="322.50" x2="330.50" y2="322.50" stroke="#161616" stroke-width="1.0"/>
<text transform="translate(324.10,324.80) scale(0.97,1)" font-size="7.0" text-anchor="end" fill="#161616" stroke="#161616" stroke-width="0.22">50</text>
<line x1="327.30" y1="313.50" x2="330.50" y2="313.50" stroke="#161616" stroke-width="1.0"/>
<text transform="translate(324.10,316.36) scale(0.97,1)" font-size="7.0" text-anchor="end" fill="#161616" stroke="#161616" stroke-width="0.22">60</text>
<line x1="327.30" y1="305.50" x2="330.50" y2="305.50" stroke="#161616" stroke-width="1.0"/>
<text transform="translate(324.10,307.92) scale(0.97,1)" font-size="7.0" text-anchor="end" fill="#161616" stroke="#161616" stroke-width="0.22">70</text>
<text transform="translate(310.00,349.20) rotate(-90)" font-size="8.6" textLength="31.40" lengthAdjust="spacingAndGlyphs" fill="#161616" stroke="#161616" stroke-width="0.22">% CD3+</text>
<rect x="334.20" y="339.10" width="7.60" height="25.40" fill="#34684c" />
<line x1="338.50" y1="338.70" x2="338.50" y2="339.60" stroke="#161616" stroke-width="1.0"/>
<line x1="336.40" y1="338.50" x2="339.60" y2="338.50" stroke="#161616" stroke-width="1.0"/>
<line x1="336.40" y1="339.50" x2="339.60" y2="339.50" stroke="#161616" stroke-width="1.0"/>
<rect x="350.10" y="342.00" width="7.60" height="22.50" fill="#34684c" />
<line x1="353.50" y1="341.60" x2="353.50" y2="342.60" stroke="#161616" stroke-width="1.0"/>
<line x1="352.30" y1="341.50" x2="355.50" y2="341.50" stroke="#161616" stroke-width="1.0"/>
<line x1="352.30" y1="342.50" x2="355.50" y2="342.50" stroke="#161616" stroke-width="1.0"/>
<rect x="372.90" y="312.50" width="7.20" height="52.00" fill="#c8c6ce" />
<line x1="376.50" y1="311.40" x2="376.50" y2="313.20" stroke="#161616" stroke-width="1.0"/>
<line x1="374.90" y1="311.50" x2="378.10" y2="311.50" stroke="#161616" stroke-width="1.0"/>
<line x1="374.90" y1="313.50" x2="378.10" y2="313.50" stroke="#161616" stroke-width="1.0"/>
<rect x="388.90" y="312.50" width="7.20" height="52.00" fill="#c8c6ce" />
<line x1="392.50" y1="310.20" x2="392.50" y2="313.90" stroke="#161616" stroke-width="1.0"/>
<line x1="390.90" y1="310.50" x2="394.10" y2="310.50" stroke="#161616" stroke-width="1.0"/>
<line x1="390.90" y1="313.50" x2="394.10" y2="313.50" stroke="#161616" stroke-width="1.0"/>
<line x1="337.50" y1="364.50" x2="337.50" y2="366.90" stroke="#161616" stroke-width="1.0"/>
<line x1="353.50" y1="364.50" x2="353.50" y2="366.90" stroke="#161616" stroke-width="1.0"/>
<line x1="376.50" y1="364.50" x2="376.50" y2="366.90" stroke="#161616" stroke-width="1.0"/>
<line x1="392.50" y1="364.50" x2="392.50" y2="366.90" stroke="#161616" stroke-width="1.0"/>
<line x1="336.90" y1="333.50" x2="353.50" y2="333.50" stroke="#161616" stroke-width="1.0"/>
<circle cx="345.20" cy="329.60" r="0.95" fill="#161616"/>
<line x1="375.00" y1="306.50" x2="392.00" y2="306.50" stroke="#161616" stroke-width="1.0"/>
<text transform="translate(382.00,302.80)" font-size="7.2" textLength="7.60" lengthAdjust="spacingAndGlyphs" fill="#161616" stroke="#161616" stroke-width="0.22">ns</text>
<text transform="translate(339.70,372.30) rotate(-45)" font-size="7.4" text-anchor="end" textLength="24.80" lengthAdjust="spacingAndGlyphs" fill="#161616" stroke="#161616" stroke-width="0.22">Vehicle</text>
<text transform="translate(356.70,372.30) rotate(-45)" font-size="7.4" text-anchor="end" textLength="26.80" lengthAdjust="spacingAndGlyphs" fill="#161616" stroke="#161616" stroke-width="0.22">ACY738</text>
<text transform="translate(379.20,372.30) rotate(-45)" font-size="7.4" text-anchor="end" textLength="24.80" lengthAdjust="spacingAndGlyphs" fill="#161616" stroke="#161616" stroke-width="0.22">Vehicle</text>
<text transform="translate(395.60,372.30) rotate(-45)" font-size="7.4" text-anchor="end" textLength="26.80" lengthAdjust="spacingAndGlyphs" fill="#161616" stroke="#161616" stroke-width="0.22">ACY738</text>
<text transform="translate(9.00,427.40)" font-size="11.6" textLength="6.00" lengthAdjust="spacingAndGlyphs" fill="#161616" stroke="#161616" stroke-width="0.22">F</text>
<rect x="124.40" y="420.80" width="4.00" height="3.60" fill="#111" />
<text transform="translate(132.00,424.20)" font-size="6.7" textLength="78.40" lengthAdjust="spacingAndGlyphs" fill="#161616" stroke="#161616" stroke-width="0.22">Malignant B cells (CD5+)</text>
<rect x="124.40" y="431.80" width="4.00" height="3.90" fill="url(#hk)" />
<text transform="translate(132.00,435.80)" font-size="6.7" textLength="67.30" lengthAdjust="spacingAndGlyphs" fill="#161616" stroke="#161616" stroke-width="0.22">Normal B cells (CD5-)</text>
<text transform="translate(90.60,448.50)" font-size="8.6" textLength="24.60" lengthAdjust="spacingAndGlyphs" fill="#161616" stroke="#161616" stroke-width="0.22">Aging</text>
<line x1="58.50" y1="454.40" x2="58.50" y2="517.10" stroke="#161616" stroke-width="1.1"/>
<line x1="54.80" y1="516.50" x2="137.00" y2="516.50" stroke="#161616" stroke-width="1.1"/>
<line x1="55.00" y1="516.50" x2="58.00" y2="516.50" stroke="#161616" stroke-width="1.0"/>
<text transform="translate(42.20,519.00)" font-size="6.6" textLength="8.80" lengthAdjust="spacingAndGlyphs" fill="#161616" stroke="#161616" stroke-width="0.22">0.0</text>
<line x1="55.00" y1="501.50" x2="58.00" y2="501.50" stroke="#161616" stroke-width="1.0"/>
<text transform="translate(26.10,504.27)" font-size="6.6" textLength="26.30" lengthAdjust="spacingAndGlyphs" fill="#161616" stroke="#161616" stroke-width="0.22">5.0×10<tspan font-size="4.75" dy="-2.77">4</tspan></text>
<line x1="55.00" y1="487.50" x2="58.00" y2="487.50" stroke="#161616" stroke-width="1.0"/>
<text transform="translate(26.10,489.54)" font-size="6.6" textLength="26.30" lengthAdjust="spacingAndGlyphs" fill="#161616" stroke="#161616" stroke-width="0.22">1.0×10<tspan font-size="4.75" dy="-2.77">5</tspan></text>
<line x1="55.00" y1="472.50" x2="58.00" y2="472.50" stroke="#161616" stroke-width="1.0"/>
<text transform="translate(26.10,474.81)" font-size="6.6" textLength="26.30" lengthAdjust="spacingAndGlyphs" fill="#161616" stroke="#161616" stroke-width="0.22">1.5×10<tspan font-size="4.75" dy="-2.77">5</tspan></text>
<line x1="55.00" y1="457.50" x2="58.00" y2="457.50" stroke="#161616" stroke-width="1.0"/>
<text transform="translate(26.10,460.08)" font-size="6.6" textLength="26.30" lengthAdjust="spacingAndGlyphs" fill="#161616" stroke="#161616" stroke-width="0.22">2.0×10<tspan font-size="4.75" dy="-2.77">5</tspan></text>
<text transform="translate(16.40,518.50) rotate(-90)" font-size="8.6" textLength="65.70" lengthAdjust="spacingAndGlyphs" fill="#161616" stroke="#161616" stroke-width="0.22">B cells per µL PB</text>
<rect x="75.10" y="488.40" width="22.60" height="28.20" fill="#d50303" />
<rect x="75.10" y="513.80" width="22.60" height="2.80" fill="url(#hr)" />
<rect x="108.30" y="501.70" width="22.60" height="14.90" fill="#0c65d6" />
<rect x="108.30" y="512.80" width="22.60" height="3.80" fill="url(#hb)" />
<line x1="86.50" y1="474.70" x2="86.50" y2="501.60" stroke="#161616" stroke-width="1.0"/>
<line x1="80.70" y1="474.50" x2="91.70" y2="474.50" stroke="#161616" stroke-width="1.0"/>
<line x1="80.70" y1="501.50" x2="91.70" y2="501.50" stroke="#161616" stroke-width="1.0"/>
<line x1="86.50" y1="513.40" x2="86.50" y2="516.60" stroke="#161616" stroke-width="1.0"/>
<line x1="80.70" y1="513.50" x2="91.70" y2="513.50" stroke="#161616" stroke-width="1.0"/>
<line x1="119.50" y1="498.50" x2="119.50" y2="504.50" stroke="#161616" stroke-width="1.0"/>
<line x1="113.80" y1="498.50" x2="125.20" y2="498.50" stroke="#161616" stroke-width="1.0"/>
<line x1="113.80" y1="504.50" x2="125.20" y2="504.50" stroke="#161616" stroke-width="1.0"/>
<line x1="119.50" y1="512.50" x2="119.50" y2="516.60" stroke="#161616" stroke-width="1.0"/>
<line x1="113.80" y1="512.50" x2="125.20" y2="512.50" stroke="#161616" stroke-width="1.0"/>
<line x1="86.50" y1="516.60" x2="86.50" y2="519.40" stroke="#161616" stroke-width="1.0"/>
<line x1="119.50" y1="516.60" x2="119.50" y2="519.40" stroke="#161616" stroke-width="1.0"/>
<line x1="86.20" y1="471.50" x2="119.90" y2="471.50" stroke="#161616" stroke-width="1.0"/>
<circle cx="103.20" cy="467.30" r="1.0" fill="#161616"/>
<text transform="translate(87.60,527.20) rotate(-45)" font-size="7.8" text-anchor="end" textLength="23.50" lengthAdjust="spacingAndGlyphs" fill="#161616" stroke="#161616" stroke-width="0.22">euTCL1</text>
<text transform="translate(95.20,532.50) rotate(-45)" font-size="7.8" text-anchor="end" textLength="30.00" lengthAdjust="spacingAndGlyphs" fill="#161616" stroke="#161616" stroke-width="0.22">(Vehicle)</text>
<text transform="translate(120.90,527.20) rotate(-45)" font-size="7.8" text-anchor="end" textLength="23.50" lengthAdjust="spacingAndGlyphs" fill="#161616" stroke="#161616" stroke-width="0.22">euTCL1</text>
<text transform="translate(128.50,532.50) rotate(-45)" font-size="7.8" text-anchor="end" textLength="32.00" lengthAdjust="spacingAndGlyphs" fill="#161616" stroke="#161616" stroke-width="0.22">(ACY738)</text>
<text transform="translate(235.40,448.50)" font-size="8.6" textLength="24.60" lengthAdjust="spacingAndGlyphs" fill="#161616" stroke="#161616" stroke-width="0.22">Aging</text>
<line x1="200.50" y1="454.90" x2="200.50" y2="516.90" stroke="#161616" stroke-width="1.1"/>
<line x1="197.30" y1="516.50" x2="281.20" y2="516.50" stroke="#161616" stroke-width="1.1"/>
<line x1="197.50" y1="516.50" x2="200.50" y2="516.50" stroke="#161616" stroke-width="1.0"/>
<text transform="translate(191.30,518.80)" font-size="6.6" textLength="3.50" lengthAdjust="spacingAndGlyphs" fill="#161616" stroke="#161616" stroke-width="0.22">0</text>
<line x1="197.50" y1="486.50" x2="200.50" y2="486.50" stroke="#161616" stroke-width="1.0"/>
<text transform="translate(174.60,489.00)" font-size="6.6" textLength="20.00" lengthAdjust="spacingAndGlyphs" fill="#161616" stroke="#161616" stroke-width="0.22">1×10<tspan font-size="4.75" dy="-2.77">9</tspan></text>
<line x1="197.50" y1="456.50" x2="200.50" y2="456.50" stroke="#161616" stroke-width="1.0"/>
<text transform="translate(174.60,459.10)" font-size="6.6" textLength="20.00" lengthAdjust="spacingAndGlyphs" fill="#161616" stroke="#161616" stroke-width="0.22">2×10<tspan font-size="4.75" dy="-2.77">9</tspan></text>
<text transform="translate(156.10,508.00) rotate(-90)" font-size="8.6" textLength="45.00" lengthAdjust="spacingAndGlyphs" fill="#161616" stroke="#161616" stroke-width="0.22">Total B-cell</text>
<text transform="translate(165.90,514.90) rotate(-90)" font-size="8.6" textLength="58.80" lengthAdjust="spacingAndGlyphs" fill="#161616" stroke="#161616" stroke-width="0.22">count (spleen)</text>
<rect x="215.50" y="472.70" width="22.90" height="43.70" fill="#d50303" />
<rect x="215.50" y="509.40" width="22.90" height="7.00" fill="url(#hr)" />
<rect x="252.90" y="509.10" width="22.90" height="7.30" fill="#0c65d6" />
<rect x="252.90" y="513.60" width="22.90" height="2.80" fill="url(#hb)" />
<line x1="226.50" y1="463.30" x2="226.50" y2="482.40" stroke="#161616" stroke-width="1.0"/>
<line x1="221.40" y1="463.50" x2="232.40" y2="463.50" stroke="#161616" stroke-width="1.0"/>
<line x1="221.40" y1="482.50" x2="232.40" y2="482.50" stroke="#161616" stroke-width="1.0"/>
<line x1="226.50" y1="506.60" x2="226.50" y2="512.20" stroke="#161616" stroke-width="1.0"/>
<line x1="221.40" y1="506.50" x2="232.40" y2="506.50" stroke="#161616" stroke-width="1.0"/>
<line x1="264.50" y1="506.90" x2="264.50" y2="511.90" stroke="#161616" stroke-width="1.0"/>
<line x1="259.20" y1="506.50" x2="269.80" y2="506.50" stroke="#161616" stroke-width="1.0"/>
<line x1="259.20" y1="511.50" x2="269.80" y2="511.50" stroke="#161616" stroke-width="1.0"/>
<line x1="259.20" y1="510.50" x2="269.80" y2="510.50" stroke="#161616" stroke-width="1.0"/>
<line x1="226.50" y1="516.40" x2="226.50" y2="519.30" stroke="#161616" stroke-width="1.0"/>
<line x1="264.50" y1="516.40" x2="264.50" y2="519.30" stroke="#161616" stroke-width="1.0"/>
<line x1="226.90" y1="460.50" x2="263.60" y2="460.50" stroke="#161616" stroke-width="1.0"/>
<circle cx="245.30" cy="456.80" r="1.0" fill="#161616"/>
<text transform="translate(228.30,527.00) rotate(-45)" font-size="7.8" text-anchor="end" textLength="23.50" lengthAdjust="spacingAndGlyphs" fill="#161616" stroke="#161616" stroke-width="0.22">euTCL1</text>
<text transform="translate(235.90,532.30) rotate(-45)" font-size="7.8" text-anchor="end" textLength="30.00" lengthAdjust="spacingAndGlyphs" fill="#161616" stroke="#161616" stroke-width="0.22">(Vehicle)</text>
<text transform="translate(265.90,527.00) rotate(-45)" font-size="7.8" text-anchor="end" textLength="23.50" lengthAdjust="spacingAndGlyphs" fill="#161616" stroke="#161616" stroke-width="0.22">euTCL1</text>
<text transform="translate(273.50,532.30) rotate(-45)" font-size="7.8" text-anchor="end" textLength="32.00" lengthAdjust="spacingAndGlyphs" fill="#161616" stroke="#161616" stroke-width="0.22">(ACY738)</text>
<text transform="translate(298.00,426.60)" font-size="11.6" textLength="8.00" lengthAdjust="spacingAndGlyphs" fill="#161616" stroke="#161616" stroke-width="0.22">G</text>
<line x1="331.30" y1="422.90" x2="349.20" y2="422.90" stroke="#d50303" stroke-width="1.4"/>
<text transform="translate(352.90,424.90)" font-size="6.9" textLength="53.00" lengthAdjust="spacingAndGlyphs" fill="#161616" stroke="#161616" stroke-width="0.22">euTCL1 (Vehicle)</text>
<line x1="331.30" y1="434.30" x2="349.20" y2="434.30" stroke="#0c65d6" stroke-width="1.4"/>
<text transform="translate(352.90,436.40)" font-size="6.9" textLength="54.10" lengthAdjust="spacingAndGlyphs" fill="#161616" stroke="#161616" stroke-width="0.22">euTCL1 (ACY738)</text>
<line x1="417.50" y1="422.50" x2="417.50" y2="432.50" stroke="#161616" stroke-width="1.0"/>
<circle cx="421.00" cy="425.60" r="0.95" fill="#161616"/>
<circle cx="421.00" cy="430.40" r="0.95" fill="#161616"/>
<text transform="translate(341.30,453.70)" font-size="8.6" textLength="71.20" lengthAdjust="spacingAndGlyphs" fill="#161616" stroke="#161616" stroke-width="0.22">Adoptive transfer</text>
<line x1="330.50" y1="460.40" x2="330.50" y2="516.85" stroke="#161616" stroke-width="1.1"/>
<line x1="327.40" y1="516.50" x2="422.60" y2="516.50" stroke="#161616" stroke-width="1.1"/>
<line x1="327.40" y1="516.50" x2="330.60" y2="516.50" stroke="#161616" stroke-width="1.0"/>
<text transform="translate(324.20,518.85) scale(0.97,1)" font-size="7.0" text-anchor="end" fill="#161616" stroke="#161616" stroke-width="0.22">0</text>
<line x1="327.40" y1="489.50" x2="330.60" y2="489.50" stroke="#161616" stroke-width="1.0"/>
<text transform="translate(324.20,491.80) scale(0.97,1)" font-size="7.0" text-anchor="end" fill="#161616" stroke="#161616" stroke-width="0.22">50</text>
<line x1="327.40" y1="462.50" x2="330.60" y2="462.50" stroke="#161616" stroke-width="1.0"/>
<text transform="translate(324.20,464.70) scale(0.97,1)" font-size="7.0" text-anchor="end" fill="#161616" stroke="#161616" stroke-width="0.22">100</text>
<line x1="330.50" y1="516.35" x2="330.50" y2="519.15" stroke="#161616" stroke-width="1.0"/>
<text transform="translate(330.60,530.50) scale(1.0,1)" font-size="7.2" text-anchor="middle" fill="#161616" stroke="#161616" stroke-width="0.22">0</text>
<line x1="352.50" y1="516.35" x2="352.50" y2="519.15" stroke="#161616" stroke-width="1.0"/>
<text transform="translate(352.81,530.50) scale(1.0,1)" font-size="7.2" text-anchor="middle" fill="#161616" stroke="#161616" stroke-width="0.22">50</text>
<line x1="375.50" y1="516.35" x2="375.50" y2="519.15" stroke="#161616" stroke-width="1.0"/>
<text transform="translate(375.03,530.50) scale(1.0,1)" font-size="7.2" text-anchor="middle" fill="#161616" stroke="#161616" stroke-width="0.22">100</text>
<line x1="397.50" y1="516.35" x2="397.50" y2="519.15" stroke="#161616" stroke-width="1.0"/>
<text transform="translate(397.25,530.50) scale(1.0,1)" font-size="7.2" text-anchor="middle" fill="#161616" stroke="#161616" stroke-width="0.22">150</text>
<line x1="419.50" y1="516.35" x2="419.50" y2="519.15" stroke="#161616" stroke-width="1.0"/>
<text transform="translate(419.46,530.50) scale(1.0,1)" font-size="7.2" text-anchor="middle" fill="#161616" stroke="#161616" stroke-width="0.22">200</text>
<text transform="translate(353.40,543.30)" font-size="8.6" textLength="47.00" lengthAdjust="spacingAndGlyphs" fill="#161616" stroke="#161616" stroke-width="0.22">Time (days)</text>
<text transform="translate(304.40,508.60) rotate(-90)" font-size="8.6" textLength="41.40" lengthAdjust="spacingAndGlyphs" fill="#161616" stroke="#161616" stroke-width="0.22">% survival</text>
<path d="M330.60,462.20 L376.00,462.20 L376.00,471.20 L393.50,471.20 L393.50,480.30 L395.20,480.30 L395.20,489.30 L397.60,489.30 L397.60,507.30 L399.70,507.30 L399.70,516.35" stroke="#0c65d6" stroke-width="1.3" fill="none" stroke-linejoin="miter" stroke-linecap="square"/>
<path d="M330.60,462.20 L372.80,462.20 L372.80,480.30 L373.30,480.30 L373.30,489.30 L374.00,489.30 L374.00,498.40 L377.20,498.40 L377.20,516.35" stroke="#d50303" stroke-width="1.3" fill="none" stroke-linejoin="miter" stroke-linecap="square"/>
<text transform="translate(10.00,586.60)" font-size="11.6" textLength="7.30" lengthAdjust="spacingAndGlyphs" fill="#161616" stroke="#161616" stroke-width="0.22">H</text>
<rect x="123.40" y="580.90" width="4.00" height="3.70" fill="#111" />
<text transform="translate(130.90,585.00)" font-size="6.7" textLength="77.90" lengthAdjust="spacingAndGlyphs" fill="#161616" stroke="#161616" stroke-width="0.22">Malignant B cells (CD5+)</text>
<rect x="123.40" y="592.30" width="4.00" height="3.70" fill="url(#hk)" />
<text transform="translate(130.90,596.50)" font-size="6.7" textLength="66.80" lengthAdjust="spacingAndGlyphs" fill="#161616" stroke="#161616" stroke-width="0.22">Normal B cells (CD5-)</text>
<text transform="translate(62.30,611.50)" font-size="8.6" textLength="71.10" lengthAdjust="spacingAndGlyphs" fill="#161616" stroke="#161616" stroke-width="0.22">Adoptive transfer</text>
<line x1="58.50" y1="617.20" x2="58.50" y2="679.70" stroke="#161616" stroke-width="1.1"/>
<line x1="55.30" y1="679.50" x2="136.00" y2="679.50" stroke="#161616" stroke-width="1.1"/>
<line x1="55.50" y1="679.50" x2="58.50" y2="679.50" stroke="#161616" stroke-width="1.0"/>
<text transform="translate(42.20,681.60)" font-size="6.6" textLength="8.80" lengthAdjust="spacingAndGlyphs" fill="#161616" stroke="#161616" stroke-width="0.22">0.0</text>
<line x1="55.50" y1="659.50" x2="58.50" y2="659.50" stroke="#161616" stroke-width="1.0"/>
<text transform="translate(25.80,661.93)" font-size="6.6" textLength="26.90" lengthAdjust="spacingAndGlyphs" fill="#161616" stroke="#161616" stroke-width="0.22">5.0×10<tspan font-size="4.75" dy="-2.77">4</tspan></text>
<line x1="55.50" y1="639.50" x2="58.50" y2="639.50" stroke="#161616" stroke-width="1.0"/>
<text transform="translate(25.80,642.26)" font-size="6.6" textLength="26.90" lengthAdjust="spacingAndGlyphs" fill="#161616" stroke="#161616" stroke-width="0.22">1.0×10<tspan font-size="4.75" dy="-2.77">5</tspan></text>
<line x1="55.50" y1="620.50" x2="58.50" y2="620.50" stroke="#161616" stroke-width="1.0"/>
<text transform="translate(25.80,622.59)" font-size="6.6" textLength="26.90" lengthAdjust="spacingAndGlyphs" fill="#161616" stroke="#161616" stroke-width="0.22">1.5×10<tspan font-size="4.75" dy="-2.77">5</tspan></text>
<text transform="translate(17.00,681.00) rotate(-90)" font-size="8.6" textLength="65.80" lengthAdjust="spacingAndGlyphs" fill="#161616" stroke="#161616" stroke-width="0.22">B cells per µL PB</text>
<rect x="75.10" y="648.80" width="22.60" height="30.40" fill="#d50303" />
<rect x="75.10" y="674.90" width="22.60" height="4.30" fill="url(#hr)" />
<rect x="108.10" y="669.40" width="22.80" height="9.80" fill="#0c65d6" />
<rect x="108.10" y="671.00" width="22.80" height="8.20" fill="url(#hb)" />
<line x1="86.50" y1="639.30" x2="86.50" y2="657.70" stroke="#161616" stroke-width="1.0"/>
<line x1="80.70" y1="639.50" x2="91.70" y2="639.50" stroke="#161616" stroke-width="1.0"/>
<line x1="80.70" y1="657.50" x2="91.70" y2="657.50" stroke="#161616" stroke-width="1.0"/>
<line x1="86.50" y1="673.60" x2="86.50" y2="679.20" stroke="#161616" stroke-width="1.0"/>
<line x1="80.70" y1="673.50" x2="91.70" y2="673.50" stroke="#161616" stroke-width="1.0"/>
<line x1="119.50" y1="668.90" x2="119.50" y2="672.70" stroke="#161616" stroke-width="1.0"/>
<line x1="113.80" y1="668.50" x2="125.20" y2="668.50" stroke="#161616" stroke-width="1.0"/>
<line x1="113.80" y1="672.50" x2="125.20" y2="672.50" stroke="#161616" stroke-width="1.0"/>
<line x1="113.80" y1="670.50" x2="125.20" y2="670.50" stroke="#161616" stroke-width="1.0"/>
<line x1="86.50" y1="679.20" x2="86.50" y2="682.00" stroke="#161616" stroke-width="1.0"/>
<line x1="119.50" y1="679.20" x2="119.50" y2="682.00" stroke="#161616" stroke-width="1.0"/>
<line x1="85.90" y1="634.50" x2="119.50" y2="634.50" stroke="#161616" stroke-width="1.0"/>
<circle cx="102.70" cy="630.80" r="1.0" fill="#161616"/>
<text transform="translate(87.60,689.80) rotate(-45)" font-size="7.8" text-anchor="end" textLength="23.50" lengthAdjust="spacingAndGlyphs" fill="#161616" stroke="#161616" stroke-width="0.22">euTCL1</text>
<text transform="translate(95.20,695.10) rotate(-45)" font-size="7.8" text-anchor="end" textLength="30.00" lengthAdjust="spacingAndGlyphs" fill="#161616" stroke="#161616" stroke-width="0.22">(Vehicle)</text>
<text transform="translate(120.90,689.80) rotate(-45)" font-size="7.8" text-anchor="end" textLength="23.50" lengthAdjust="spacingAndGlyphs" fill="#161616" stroke="#161616" stroke-width="0.22">euTCL1</text>
<text transform="translate(128.50,695.10) rotate(-45)" font-size="7.8" text-anchor="end" textLength="32.00" lengthAdjust="spacingAndGlyphs" fill="#161616" stroke="#161616" stroke-width="0.22">(ACY738)</text>
<text transform="translate(205.40,611.50)" font-size="8.6" textLength="70.80" lengthAdjust="spacingAndGlyphs" fill="#161616" stroke="#161616" stroke-width="0.22">Adoptive transfer</text>
<line x1="200.50" y1="617.20" x2="200.50" y2="679.40" stroke="#161616" stroke-width="1.1"/>
<line x1="197.30" y1="678.50" x2="279.80" y2="678.50" stroke="#161616" stroke-width="1.1"/>
<line x1="197.50" y1="678.50" x2="200.50" y2="678.50" stroke="#161616" stroke-width="1.0"/>
<text transform="translate(191.30,681.30)" font-size="6.6" textLength="3.50" lengthAdjust="spacingAndGlyphs" fill="#161616" stroke="#161616" stroke-width="0.22">0</text>
<line x1="197.50" y1="664.50" x2="200.50" y2="664.50" stroke="#161616" stroke-width="1.0"/>
<text transform="translate(174.20,666.65)" font-size="6.6" textLength="20.40" lengthAdjust="spacingAndGlyphs" fill="#161616" stroke="#161616" stroke-width="0.22">1×10<tspan font-size="4.75" dy="-2.77">9</tspan></text>
<line x1="197.50" y1="649.50" x2="200.50" y2="649.50" stroke="#161616" stroke-width="1.0"/>
<text transform="translate(174.20,652.00)" font-size="6.6" textLength="20.40" lengthAdjust="spacingAndGlyphs" fill="#161616" stroke="#161616" stroke-width="0.22">2×10<tspan font-size="4.75" dy="-2.77">9</tspan></text>
<line x1="197.50" y1="634.50" x2="200.50" y2="634.50" stroke="#161616" stroke-width="1.0"/>
<text transform="translate(174.20,637.35)" font-size="6.6" textLength="20.40" lengthAdjust="spacingAndGlyphs" fill="#161616" stroke="#161616" stroke-width="0.22">3×10<tspan font-size="4.75" dy="-2.77">9</tspan></text>
<line x1="197.50" y1="620.50" x2="200.50" y2="620.50" stroke="#161616" stroke-width="1.0"/>
<text transform="translate(174.20,622.70)" font-size="6.6" textLength="20.40" lengthAdjust="spacingAndGlyphs" fill="#161616" stroke="#161616" stroke-width="0.22">4×10<tspan font-size="4.75" dy="-2.77">9</tspan></text>
<text transform="translate(155.50,670.80) rotate(-90)" font-size="8.6" textLength="45.00" lengthAdjust="spacingAndGlyphs" fill="#161616" stroke="#161616" stroke-width="0.22">Total B-cell</text>
<text transform="translate(165.90,677.80) rotate(-90)" font-size="8.6" textLength="58.90" lengthAdjust="spacingAndGlyphs" fill="#161616" stroke="#161616" stroke-width="0.22">count (spleen)</text>
<rect x="217.70" y="642.20" width="22.80" height="36.70" fill="#d50303" />
<rect x="217.70" y="673.90" width="22.80" height="5.00" fill="url(#hr)" />
<rect x="251.00" y="669.40" width="22.60" height="9.50" fill="#0c65d6" />
<rect x="251.00" y="675.20" width="22.60" height="3.70" fill="url(#hb)" />
<line x1="228.50" y1="633.10" x2="228.50" y2="650.70" stroke="#161616" stroke-width="1.0"/>
<line x1="223.20" y1="633.50" x2="234.40" y2="633.50" stroke="#161616" stroke-width="1.0"/>
<line x1="223.20" y1="650.50" x2="234.40" y2="650.50" stroke="#161616" stroke-width="1.0"/>
<line x1="228.50" y1="671.20" x2="228.50" y2="678.90" stroke="#161616" stroke-width="1.0"/>
<line x1="223.20" y1="671.50" x2="234.40" y2="671.50" stroke="#161616" stroke-width="1.0"/>
<line x1="261.50" y1="667.40" x2="261.50" y2="672.80" stroke="#161616" stroke-width="1.0"/>
<line x1="256.40" y1="667.50" x2="267.20" y2="667.50" stroke="#161616" stroke-width="1.0"/>
<line x1="256.40" y1="672.50" x2="267.20" y2="672.50" stroke="#161616" stroke-width="1.0"/>
<line x1="256.40" y1="670.50" x2="267.20" y2="670.50" stroke="#161616" stroke-width="1.0"/>
<line x1="228.50" y1="678.90" x2="228.50" y2="682.00" stroke="#161616" stroke-width="1.0"/>
<line x1="261.50" y1="678.90" x2="261.50" y2="682.00" stroke="#161616" stroke-width="1.0"/>
<line x1="228.40" y1="626.50" x2="262.00" y2="626.50" stroke="#161616" stroke-width="1.0"/>
<circle cx="245.00" cy="622.50" r="1.0" fill="#161616"/>
<text transform="translate(230.20,689.50) rotate(-45)" font-size="7.8" text-anchor="end" textLength="23.50" lengthAdjust="spacingAndGlyphs" fill="#161616" stroke="#161616" stroke-width="0.22">euTCL1</text>
<text transform="translate(237.80,694.80) rotate(-45)" font-size="7.8" text-anchor="end" textLength="30.00" lengthAdjust="spacingAndGlyphs" fill="#161616" stroke="#161616" stroke-width="0.22">(Vehicle)</text>
<text transform="translate(263.20,689.50) rotate(-45)" font-size="7.8" text-anchor="end" textLength="23.50" lengthAdjust="spacingAndGlyphs" fill="#161616" stroke="#161616" stroke-width="0.22">euTCL1</text>
<text transform="translate(270.80,694.80) rotate(-45)" font-size="7.8" text-anchor="end" textLength="32.00" lengthAdjust="spacingAndGlyphs" fill="#161616" stroke="#161616" stroke-width="0.22">(ACY738)</text>
<text transform="translate(298.60,587.00)" font-size="11.6" textLength="2.60" lengthAdjust="spacingAndGlyphs" fill="#161616" stroke="#161616" stroke-width="0.22">I</text>
<text transform="translate(332.80,612.80)" font-size="8.6" textLength="70.70" lengthAdjust="spacingAndGlyphs" fill="#161616" stroke="#161616" stroke-width="0.22">Adoptive transfer</text>
<line x1="327.50" y1="618.70" x2="327.50" y2="679.30" stroke="#161616" stroke-width="1.1"/>
<line x1="324.30" y1="678.50" x2="409.70" y2="678.50" stroke="#161616" stroke-width="1.1"/>
<line x1="324.30" y1="678.50" x2="327.50" y2="678.50" stroke="#161616" stroke-width="1.0"/>
<text transform="translate(321.10,681.30) scale(0.97,1)" font-size="7.0" text-anchor="end" fill="#161616" stroke="#161616" stroke-width="0.22">0.0</text>
<line x1="324.30" y1="664.50" x2="327.50" y2="664.50" stroke="#161616" stroke-width="1.0"/>
<text transform="translate(321.10,666.60) scale(0.97,1)" font-size="7.0" text-anchor="end" fill="#161616" stroke="#161616" stroke-width="0.22">0.2</text>
<line x1="324.30" y1="649.50" x2="327.50" y2="649.50" stroke="#161616" stroke-width="1.0"/>
<text transform="translate(321.10,651.90) scale(0.97,1)" font-size="7.0" text-anchor="end" fill="#161616" stroke="#161616" stroke-width="0.22">0.4</text>
<line x1="324.30" y1="634.50" x2="327.50" y2="634.50" stroke="#161616" stroke-width="1.0"/>
<text transform="translate(321.10,637.20) scale(0.97,1)" font-size="7.0" text-anchor="end" fill="#161616" stroke="#161616" stroke-width="0.22">0.6</text>
<line x1="324.30" y1="620.50" x2="327.50" y2="620.50" stroke="#161616" stroke-width="1.0"/>
<text transform="translate(321.10,622.50) scale(0.97,1)" font-size="7.0" text-anchor="end" fill="#161616" stroke="#161616" stroke-width="0.22">0.8</text>
<text transform="translate(303.50,685.30) rotate(-90)" font-size="8.6" textLength="72.50" lengthAdjust="spacingAndGlyphs" fill="#161616" stroke="#161616" stroke-width="0.22">Spleen weight (g)</text>
<rect x="339.50" y="648.10" width="25.90" height="30.70" fill="#d50303" />
<rect x="377.50" y="674.60" width="26.00" height="4.20" fill="#0c65d6" />
<line x1="352.50" y1="633.10" x2="352.50" y2="662.30" stroke="#161616" stroke-width="1.0"/>
<line x1="346.25" y1="633.50" x2="358.75" y2="633.50" stroke="#161616" stroke-width="1.0"/>
<line x1="346.25" y1="662.50" x2="358.75" y2="662.50" stroke="#161616" stroke-width="1.0"/>
<line x1="384.50" y1="674.50" x2="396.50" y2="674.50" stroke="#161616" stroke-width="1.0"/>
<line x1="352.50" y1="678.80" x2="352.50" y2="682.00" stroke="#161616" stroke-width="1.0"/>
<line x1="390.50" y1="678.80" x2="390.50" y2="682.00" stroke="#161616" stroke-width="1.0"/>
<line x1="352.20" y1="628.50" x2="391.40" y2="628.50" stroke="#161616" stroke-width="1.0"/>
<circle cx="370.20" cy="623.90" r="0.95" fill="#161616"/>
<circle cx="373.50" cy="623.90" r="0.95" fill="#161616"/>
<text transform="translate(353.60,690.20) rotate(-45)" font-size="7.8" text-anchor="end" textLength="23.50" lengthAdjust="spacingAndGlyphs" fill="#161616" stroke="#161616" stroke-width="0.22">euTCL1</text>
<text transform="translate(361.20,695.50) rotate(-45)" font-size="7.8" text-anchor="end" textLength="30.00" lengthAdjust="spacingAndGlyphs" fill="#161616" stroke="#161616" stroke-width="0.22">(Vehicle)</text>
<text transform="translate(391.30,690.20) rotate(-45)" font-size="7.8" text-anchor="end" textLength="23.50" lengthAdjust="spacingAndGlyphs" fill="#161616" stroke="#161616" stroke-width="0.22">euTCL1</text>
<text transform="translate(398.90,695.50) rotate(-45)" font-size="7.8" text-anchor="end" textLength="32.00" lengthAdjust="spacingAndGlyphs" fill="#161616" stroke="#161616" stroke-width="0.22">(ACY738)</text>
<text transform="translate(425.00,587.00)" font-size="11.6" textLength="5.30" lengthAdjust="spacingAndGlyphs" fill="#161616" stroke="#161616" stroke-width="0.22">J</text>
<rect x="446.90" y="604.80" width="4.70" height="46.80" fill="#767676" />
<line x1="447.20" y1="605.50" x2="451.60" y2="605.50" stroke="#9c9c9c" stroke-width="0.4"/>
<line x1="447.20" y1="606.50" x2="451.60" y2="606.50" stroke="#9c9c9c" stroke-width="0.4"/>
<line x1="447.20" y1="607.50" x2="451.60" y2="607.50" stroke="#9c9c9c" stroke-width="0.4"/>
<line x1="447.20" y1="608.50" x2="451.60" y2="608.50" stroke="#9c9c9c" stroke-width="0.4"/>
<line x1="447.20" y1="609.50" x2="451.60" y2="609.50" stroke="#9c9c9c" stroke-width="0.4"/>
<line x1="447.20" y1="610.50" x2="451.60" y2="610.50" stroke="#9c9c9c" stroke-width="0.4"/>
<line x1="447.20" y1="611.50" x2="451.60" y2="611.50" stroke="#9c9c9c" stroke-width="0.4"/>
<line x1="447.20" y1="612.50" x2="451.60" y2="612.50" stroke="#9c9c9c" stroke-width="0.4"/>
<line x1="447.20" y1="613.50" x2="451.60" y2="613.50" stroke="#9c9c9c" stroke-width="0.4"/>
<line x1="447.20" y1="614.50" x2="451.60" y2="614.50" stroke="#9c9c9c" stroke-width="0.4"/>
<line x1="447.20" y1="615.50" x2="451.60" y2="615.50" stroke="#9c9c9c" stroke-width="0.4"/>
<line x1="447.20" y1="616.50" x2="451.60" y2="616.50" stroke="#9c9c9c" stroke-width="0.4"/>
<line x1="447.20" y1="617.50" x2="451.60" y2="617.50" stroke="#9c9c9c" stroke-width="0.4"/>
<line x1="447.20" y1="618.50" x2="451.60" y2="618.50" stroke="#9c9c9c" stroke-width="0.4"/>
<line x1="447.20" y1="619.50" x2="451.60" y2="619.50" stroke="#9c9c9c" stroke-width="0.4"/>
<line x1="447.20" y1="620.50" x2="451.60" y2="620.50" stroke="#9c9c9c" stroke-width="0.4"/>
<line x1="447.20" y1="621.50" x2="451.60" y2="621.50" stroke="#9c9c9c" stroke-width="0.4"/>
<line x1="447.20" y1="622.50" x2="451.60" y2="622.50" stroke="#9c9c9c" stroke-width="0.4"/>
<line x1="447.20" y1="623.50" x2="451.60" y2="623.50" stroke="#9c9c9c" stroke-width="0.4"/>
<line x1="447.20" y1="624.50" x2="451.60" y2="624.50" stroke="#9c9c9c" stroke-width="0.4"/>
<line x1="447.20" y1="625.50" x2="451.60" y2="625.50" stroke="#9c9c9c" stroke-width="0.4"/>
<line x1="447.20" y1="626.50" x2="451.60" y2="626.50" stroke="#9c9c9c" stroke-width="0.4"/>
<line x1="447.20" y1="627.50" x2="451.60" y2="627.50" stroke="#9c9c9c" stroke-width="0.4"/>
<line x1="447.20" y1="628.50" x2="451.60" y2="628.50" stroke="#9c9c9c" stroke-width="0.4"/>
<line x1="447.20" y1="629.50" x2="451.60" y2="629.50" stroke="#9c9c9c" stroke-width="0.4"/>
<line x1="447.20" y1="630.50" x2="451.60" y2="630.50" stroke="#9c9c9c" stroke-width="0.4"/>
<line x1="447.20" y1="631.50" x2="451.60" y2="631.50" stroke="#9c9c9c" stroke-width="0.4"/>
<line x1="447.20" y1="632.50" x2="451.60" y2="632.50" stroke="#9c9c9c" stroke-width="0.4"/>
<line x1="447.20" y1="633.50" x2="451.60" y2="633.50" stroke="#9c9c9c" stroke-width="0.4"/>
<line x1="447.20" y1="634.50" x2="451.60" y2="634.50" stroke="#9c9c9c" stroke-width="0.4"/>
<line x1="447.20" y1="635.50" x2="451.60" y2="635.50" stroke="#9c9c9c" stroke-width="0.4"/>
<line x1="447.20" y1="636.50" x2="451.60" y2="636.50" stroke="#9c9c9c" stroke-width="0.4"/>
<line x1="447.20" y1="637.50" x2="451.60" y2="637.50" stroke="#9c9c9c" stroke-width="0.4"/>
<line x1="447.20" y1="638.50" x2="451.60" y2="638.50" stroke="#9c9c9c" stroke-width="0.4"/>
<line x1="447.20" y1="639.50" x2="451.60" y2="639.50" stroke="#9c9c9c" stroke-width="0.4"/>
<line x1="447.20" y1="640.50" x2="451.60" y2="640.50" stroke="#9c9c9c" stroke-width="0.4"/>
<line x1="447.20" y1="641.50" x2="451.60" y2="641.50" stroke="#9c9c9c" stroke-width="0.4"/>
<line x1="447.20" y1="642.50" x2="451.60" y2="642.50" stroke="#9c9c9c" stroke-width="0.4"/>
<line x1="447.20" y1="643.50" x2="451.60" y2="643.50" stroke="#9c9c9c" stroke-width="0.4"/>
<line x1="447.20" y1="644.50" x2="451.60" y2="644.50" stroke="#9c9c9c" stroke-width="0.4"/>
<line x1="447.20" y1="645.50" x2="451.60" y2="645.50" stroke="#9c9c9c" stroke-width="0.4"/>
<line x1="447.20" y1="646.50" x2="451.60" y2="646.50" stroke="#9c9c9c" stroke-width="0.4"/>
<line x1="447.20" y1="647.50" x2="451.60" y2="647.50" stroke="#9c9c9c" stroke-width="0.4"/>
<line x1="447.20" y1="648.50" x2="451.60" y2="648.50" stroke="#9c9c9c" stroke-width="0.4"/>
<line x1="447.20" y1="649.50" x2="451.60" y2="649.50" stroke="#9c9c9c" stroke-width="0.4"/>
<line x1="447.20" y1="650.50" x2="451.60" y2="650.50" stroke="#9c9c9c" stroke-width="0.4"/>
<line x1="447.20" y1="651.50" x2="451.60" y2="651.50" stroke="#9c9c9c" stroke-width="0.4"/>
<line x1="442.90" y1="605.50" x2="447.20" y2="605.50" stroke="#2e2e2e" stroke-width="1.0"/>
<line x1="442.90" y1="612.50" x2="447.20" y2="612.50" stroke="#2e2e2e" stroke-width="1.0"/>
<line x1="442.90" y1="620.50" x2="447.20" y2="620.50" stroke="#2e2e2e" stroke-width="1.0"/>
<line x1="442.90" y1="628.50" x2="447.20" y2="628.50" stroke="#2e2e2e" stroke-width="1.0"/>
<line x1="442.90" y1="635.50" x2="447.20" y2="635.50" stroke="#2e2e2e" stroke-width="1.0"/>
<line x1="442.90" y1="643.50" x2="447.20" y2="643.50" stroke="#2e2e2e" stroke-width="1.0"/>
<line x1="442.90" y1="650.50" x2="447.20" y2="650.50" stroke="#2e2e2e" stroke-width="1.0"/>
<text transform="translate(440.9,607.6) rotate(-90)" font-size="5.0" text-anchor="middle" fill="#333" stroke="#333" stroke-width="0.1">3</text>
<text transform="translate(440.9,622.9) rotate(-90)" font-size="5.0" text-anchor="middle" fill="#333" stroke="#333" stroke-width="0.1">2</text>
<text transform="translate(440.9,638.0) rotate(-90)" font-size="5.0" text-anchor="middle" fill="#333" stroke="#333" stroke-width="0.1">1</text>
<text transform="translate(441.2,646.8) rotate(-90)" font-size="4.8" text-anchor="middle" fill="#333" stroke="#333" stroke-width="0.1">CM</text>
<rect x="459.5" y="603.5" width="24.0" height="47.0" fill="#fff" stroke="#1b1b1b" stroke-width="1.0"/>
<rect x="491.5" y="616.5" width="18.0" height="34.0" fill="#fff" stroke="#1b1b1b" stroke-width="1.0"/>
<path d="M460.3,612.0 C462,609 466,607.8 469.5,608.6 C474.5,610 477.8,616 478.2,624 C478.6,633 475.5,642 469.8,646.5 C467.5,648.3 464,648.4 462.8,646.5 C461.8,645 462.4,643.3 463.6,641.8 C466.8,637.5 468.7,631 468.4,625 C468.1,619.5 465.6,615.5 462.4,614.6 C461.2,614.2 460.3,613.5 460.3,612.0 Z" fill="url(#sp1)" stroke="#6a1a22" stroke-width="0.5"/>
<path d="M503.5,618.1 C505.5,618.4 507.3,621 507.6,625 C508.0,631 507.2,638 505.3,643.5 C504.0,647 501,649.2 498.6,648.8 C497.0,648.5 496.8,646.5 497.3,644 C497.9,639 497.9,633 498.1,628 C498.3,622.5 500.6,618.0 503.5,618.1 Z" fill="url(#sp2)" stroke="#7a1e26" stroke-width="0.4"/>
<path d="M503.6,625.5 C505.2,627 505.4,632 504.4,635.5 C503.6,638 502.2,638.5 501.6,637 C501.2,633 501.8,628 503.6,625.5 Z" fill="#dcbc98"/>
<path d="M502.6,619.6 C503.6,620.2 503.8,622.5 503.2,624.2 C502.8,625 502.2,624.6 502.2,623.5 C502.1,622 502.2,620.5 502.6,619.6 Z" fill="#cdb5b0" opacity="0.8"/>
<path d="M501.0,639.5 C502.2,640.8 501.9,644.5 500.4,646.0 C499.4,646.8 498.6,645.6 498.9,643.8 C499.2,642 499.9,640.3 501.0,639.5 Z" fill="#d8b894"/>
<text transform="translate(470.60,657.70) rotate(-45)" font-size="7.8" text-anchor="end" textLength="23.50" lengthAdjust="spacingAndGlyphs" fill="#161616" stroke="#161616" stroke-width="0.22">euTCL1</text>
<text transform="translate(478.20,663.00) rotate(-45)" font-size="7.8" text-anchor="end" textLength="30.00" lengthAdjust="spacingAndGlyphs" fill="#161616" stroke="#161616" stroke-width="0.22">(Vehicle)</text>
<text transform="translate(502.90,660.80) rotate(-45)" font-size="7.8" text-anchor="end" textLength="23.50" lengthAdjust="spacingAndGlyphs" fill="#161616" stroke="#161616" stroke-width="0.22">euTCL1</text>
<text transform="translate(510.50,666.10) rotate(-45)" font-size="7.8" text-anchor="end" textLength="32.00" lengthAdjust="spacingAndGlyphs" fill="#161616" stroke="#161616" stroke-width="0.22">(ACY738)</text>
<rect x="0.6" y="0.6" width="518.8" height="728.8" fill="none" stroke="#111" stroke-width="1.3"/>
</svg>
</body></html>
